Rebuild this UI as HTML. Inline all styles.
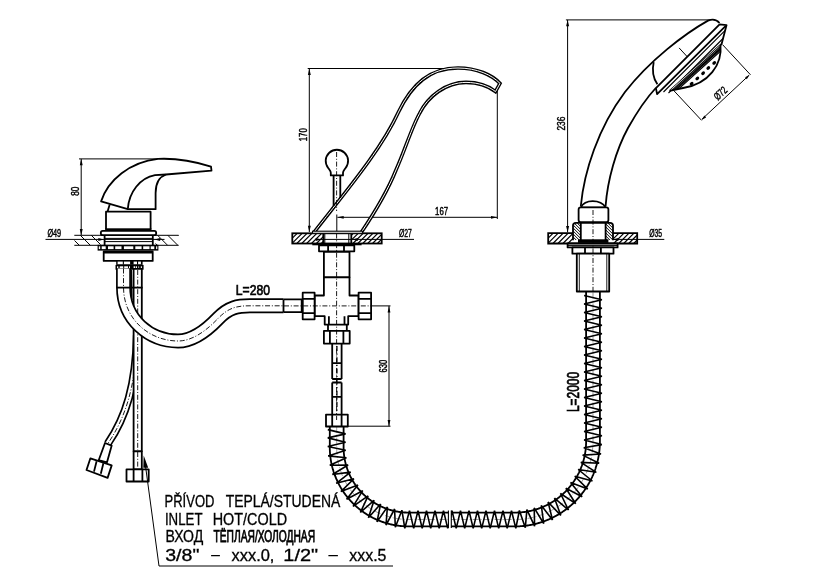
<!DOCTYPE html>
<html><head><meta charset="utf-8"><style>
html,body{margin:0;padding:0;background:#fff;}
svg{display:block;filter:grayscale(1);}
.k{fill:none;stroke:#000;stroke-width:1.8;}
.w{fill:#fff;stroke:#000;stroke-width:1.8;stroke-linejoin:round;}
.w0{fill:none;stroke:#000;stroke-width:1.8;}
.t{fill:none;stroke:#000;stroke-width:1;}
.f{fill:#000;stroke:none;}
.cl{fill:none;stroke:#000;stroke-width:0.9;stroke-dasharray:5 1.8 1 1.8;}
text{font-family:"Liberation Sans",sans-serif;fill:#000;stroke:#000;}
.s{font-size:10.6px;stroke-width:0.45;}
.m1{font-size:14.5px;stroke-width:0.7;}
.tb{font-size:15.6px;stroke-width:0.3;}
</style></head><body>
<svg width="822" height="577" viewBox="0 0 822 577">
<path class="t" d="M74.50,240.50L79.30,245.30M80.30,235.30L90.30,245.30M91.30,235.30L100.50,244.50"/>
<path class="t" d="M155.60,243.50L157.40,245.30M157.60,235.30L167.60,245.30M167.80,235.30L177.80,245.30M178.00,235.30L178.60,235.90"/>
<path class="t" d="M74.3,235.3H178.6M74.3,245.3H178.6"/>
<path class="t" d="M45.5,239.4H164.5"/>
<path d="M103.8,239.4L98.3,240.9L98.3,237.9Z" class="f"/>
<path d="M154.6,239.4L160.1,237.9L160.1,240.9Z" class="f"/>
<text x="47.40" y="237.00" style="font-size:10.6px;stroke-width:0.45" textLength="13.75" lengthAdjust="spacingAndGlyphs">Ø49</text>
<path class="t" d="M79,158.9H158M81.2,158.9V235.2"/>
<path d="M81.2,159.0L82.7,165.3L79.8,165.3Z" class="f"/>
<path d="M81.2,235.2L79.8,228.9L82.7,228.9Z" class="f"/>
<text transform="translate(79.00,195.80) rotate(-90)" style="font-size:10.6px;stroke-width:0.45" textLength="9.25" lengthAdjust="spacingAndGlyphs">80</text>
<path class="w" d="M101.1,201.4C108,180 130,162 158,158.9C180,157.8 198,162.5 211,166.6L211.5,170.6L166,174.5L155,175.2C140,178 129,192 127.8,209.1Z"/>
<path class="w" d="M127.8,209.2H155.6V193C155.6,183 159,177 166,174.5"/>
<path class="k" d="M109.7,204.5L107.6,211.5"/>
<path class="w" d="M106,229.5V211.7H150.6V229.5"/>
<rect x="105.2" y="228.3" width="46.2" height="2.5" class="f"/>
<rect x="100.8" y="230.9" width="55.4" height="4.3" rx="2" class="w"/>
<path class="k" d="M104.6,235.4V245.2M152.8,235.4V245.2"/>
<path class="t" d="M104.6,238.4H152.8M104.6,241.6H152.8"/>
<rect x="97.6" y="244.8" width="60.8" height="5.8" class="f"/>
<rect x="98.8" y="246.3" width="1.4" height="2.8" fill="#fff"/>
<rect x="101.7" y="246.3" width="4.0" height="2.8" fill="#fff"/>
<rect x="108" y="246.3" width="5.6" height="2.8" fill="#fff"/>
<rect x="115.2" y="246.3" width="6.3" height="2.8" fill="#fff"/>
<rect x="123.9" y="246.3" width="9.4" height="2.8" fill="#fff"/>
<rect x="135.3" y="246.3" width="6.3" height="2.8" fill="#fff"/>
<rect x="143.2" y="246.3" width="6.3" height="2.8" fill="#fff"/>
<rect x="150.7" y="246.3" width="3.6" height="2.8" fill="#fff"/>
<rect x="156.1" y="246.3" width="1.2" height="2.8" fill="#fff"/>
<rect x="103.7" y="251.4" width="49" height="9.5" class="w"/>
<path class="k" d="M103.7,252.6H152.7"/>
<rect x="116.2" y="260.6" width="26.4" height="4.3" class="f"/>
<rect x="117.6" y="261.6" width="5.2" height="2.6" fill="#fff"/>
<rect x="123.9" y="261.6" width="6.2" height="2.6" fill="#fff"/>
<rect x="133.6" y="261.6" width="3.4" height="2.6" fill="#fff"/>
<rect x="138.1" y="261.6" width="2.8" height="2.6" fill="#fff"/>
<rect x="115.5" y="264.9" width="28.1" height="4.8" class="f"/>
<rect x="117" y="266.3" width="1.3" height="2.1" fill="#fff"/>
<rect x="119.7" y="266.3" width="3.5" height="2.1" fill="#fff"/>
<rect x="124.2" y="266.3" width="3.8" height="2.1" fill="#fff"/>
<rect x="129" y="266.3" width="1.0" height="2.1" fill="#fff"/>
<rect x="133.6" y="266.3" width="1.7" height="2.1" fill="#fff"/>
<rect x="136" y="266.3" width="1.0" height="2.1" fill="#fff"/>
<rect x="138.4" y="266.3" width="0.7" height="2.1" fill="#fff"/>
<rect x="140.8" y="266.3" width="1.1" height="2.1" fill="#fff"/>
<path class="k" d="M131.1,269.6L131.7,300"/>
<path d="M137,335C136,385 126,417 107.7,443.8" fill="none" stroke="#000" stroke-width="8.2"/>
<path d="M137,335C136,385 126,417 107.7,443.8" fill="none" stroke="#fff" stroke-width="4.9"/>
<path d="M137,335C136,385 126,417 107.7,443.8" class="cl"/>
<rect x="133.6" y="268.8" width="8.2" height="182.5" class="w"/>
<path class="cl" d="M137.7,270V450"/>
<path d="M123.5,268.5L123.5,287C123.5,320 150,341 178,341C193,341 207,330 218,318.5C229,307 238,305.8 250,305.8L283.5,305.8" fill="none" stroke="#000" stroke-width="14.9"/>
<path d="M123.5,268.5L123.5,287C123.5,320 150,341 178,341C193,341 207,330 218,318.5C229,307 238,305.8 250,305.8L283.5,305.8" fill="none" stroke="#fff" stroke-width="11.5"/>
<path d="M123.5,268.5L123.5,287C123.5,320 150,341 178,341C193,341 207,330 218,318.5C229,307 238,305.8 250,305.8L283.5,305.8" class="cl"/>
<path class="k" d="M116.5,287.6H142.6"/>
<rect x="133.6" y="451.3" width="8.2" height="18" class="w"/>
<path class="cl" d="M137.7,452V468"/>
<rect x="126.5" y="469.3" width="22.2" height="12.2" class="w"/>
<path class="k" d="M133.6,469.3V481.5M142.4,469.3V481.5"/>
<path class="w" d="M105,443L111.7,445.6L107,462.3L98.7,460.2Z"/>
<path class="w" d="M90.4,458.3L111.7,465.4L107.6,477.9L86.5,470Z"/>
<path class="k" d="M96.6,461.2L94,471.6M103.4,463.3L100.8,473.7"/>
<path class="f" d="M143.7,455.5L143.3,467.8L148.2,467.8Z"/>
<path class="t" d="M145.5,466L159,566H393"/>
<path class="t" d="M307.7,68.5H458M309.3,68.5V232"/>
<path d="M309.3,68.6L310.8,74.9L307.9,74.9Z" class="f"/>
<path d="M309.3,232.0L307.9,225.7L310.8,225.7Z" class="f"/>
<text transform="translate(307.00,141.20) rotate(-90)" style="font-size:10.6px;stroke-width:0.45" textLength="12.95" lengthAdjust="spacingAndGlyphs">170</text>
<path class="t" d="M497.3,91V219M337.4,217.3H497.3"/>
<path d="M337.4,217.3L343.7,215.9L343.7,218.8Z" class="f"/>
<path d="M497.3,217.3L491.0,218.8L491.0,215.9Z" class="f"/>
<text x="435.05" y="214.60" style="font-size:10.6px;stroke-width:0.45" textLength="13.00" lengthAdjust="spacingAndGlyphs">167</text>
<path d="M314,232.3C347,190 381,150 398.5,112C412,84 430,68 458,68C477,68 492,75 500,83.4L495.5,91.6C489,86.5 479,82.4 466,82.4C446,82.5 428,96 419.5,113.5C411.5,128 405,150 396,170C388,190 375,212 361.2,232.5" fill="none" stroke="#000" stroke-width="3.6" stroke-linejoin="miter"/>
<path d="M314,232.3C347,190 381,150 398.5,112C412,84 430,68 458,68C477,68 492,75 500,83.4L495.5,91.6C489,86.5 479,82.4 466,82.4C446,82.5 428,96 419.5,113.5C411.5,128 405,150 396,170C388,190 375,212 361.2,232.5" fill="none" stroke="#fff" stroke-width="1.0"/>
<path class="w" d="M330.8,175.4V172.8C330.8,171 329.2,169.6 328.2,168A11.2,11.2 0 1 1 345.6,168C344.6,169.6 343,171 343,172.8V175.4Z"/>
<path class="k" d="M333.6,175.4V206M340.3,175.4V198"/>
<path class="t" style="stroke-width:1.2" d="M292.30,238.20L297.20,233.30M292.30,243.10L302.10,233.30M296.80,243.50L307.00,233.30M301.70,243.50L311.90,233.30M306.60,243.50L316.80,233.30M311.50,243.50L321.70,233.30M316.40,243.50L323.30,236.60M321.30,243.50L323.30,241.50"/>
<path class="t" style="stroke-width:1.2" d="M351.30,235.30L353.30,233.30M351.30,240.20L358.20,233.30M352.90,243.50L363.10,233.30M357.80,243.50L368.00,233.30M362.70,243.50L372.90,233.30M367.60,243.50L377.80,233.30M372.50,243.50L381.70,234.30M377.40,243.50L381.70,239.20"/>
<rect x="292.3" y="233.3" width="89.4" height="10.2" class="w0"/>
<path class="k" d="M323.3,233.3V243.5M351.3,233.3V243.5"/>
<path class="t" d="M324.8,233.3V243.5M348.8,233.3V243.5"/>
<rect x="312.5" y="231.2" width="50" height="2.1" fill="#fff" stroke="#000" stroke-width="1.1"/>
<path class="t" d="M336.8,214.5V231.2"/>
<path class="t" d="M317.4,239.4H414"/>
<path d="M321.2,239.4L315.7,240.9L315.7,237.9Z" class="f"/>
<path d="M352.3,239.4L357.8,237.9L357.8,240.9Z" class="f"/>
<text x="398.95" y="237.45" style="font-size:10.6px;stroke-width:0.45" textLength="12.85" lengthAdjust="spacingAndGlyphs">Ø27</text>
<rect x="312.3" y="243.5" width="49.3" height="1.8" class="f"/>
<rect x="319" y="245.3" width="35.3" height="6" class="w"/>
<path class="k" d="M328.1,245.3V251.3M344,245.3V251.3"/>
<rect x="323.9" y="251.8" width="25.6" height="25.5" class="w"/>
<path class="w" d="M323.9,277.3V295.5H314.6V316.2H324.7V324.6H348.2V316.2H358.6V295.5H349.5V277.3Z"/>
<rect x="302.7" y="292.7" width="11.9" height="26.6" class="w"/>
<path class="k" d="M302.7,298.9H314.6M302.7,313.2H314.6"/>
<rect x="358.6" y="292.7" width="12.5" height="26.6" class="w"/>
<path class="k" d="M358.6,298.9H371.1M358.6,313.2H371.1"/>
<path class="k" d="M283.5,299.4V312.2M283.5,299.4H302.7M283.5,312.2H302.7"/>
<path d="M302,299.4V312.2" stroke="#000" stroke-width="2.4"/>
<path class="k" d="M328.9,316.2V324.6M344.5,316.2V324.6"/>
<path class="k" d="M328,324.6V330.9M346.8,324.6V330.9"/>
<rect x="323.9" y="330.9" width="25.8" height="12.7" class="w"/>
<path class="k" d="M329.9,330.9V343.6M343.4,330.9V343.6"/>
<path class="k" d="M332.2,343.6V379M341.6,343.6V379M332.2,382.5V414.6M341.6,382.5V414.6"/>
<path class="k" d="M332.2,363.2H341.6M332.2,379H341.6M332.2,382.5H341.6M332.2,396.8H341.6"/>
<path d="M336.9,346V412" stroke="#000" stroke-width="1.3" stroke-dasharray="5 2.5 1.2 2.5"/>
<rect x="326" y="414.6" width="21.8" height="11.9" class="w"/>
<path class="k" d="M332.2,414.6V426.5M341.6,414.6V426.5"/>
<path class="cl" d="M336.6,152V211"/>
<path class="cl" d="M336.6,233.5V420"/>
<path class="cl" d="M284,305.9H371"/>
<path class="t" d="M371.1,305.9H390.5"/>
<path class="t" d="M389,305.9V426.2M347.8,426.2H390.5"/>
<path d="M389.0,306.1L390.4,312.4L387.6,312.4Z" class="f"/>
<path d="M389.0,426.2L387.6,419.9L390.4,419.9Z" class="f"/>
<text transform="translate(386.65,372.45) rotate(-90)" style="font-size:10.6px;stroke-width:0.45" textLength="12.75" lengthAdjust="spacingAndGlyphs">630</text>
<text x="235.85" y="295.00" style="font-size:15.2px;stroke-width:0.7" textLength="34.20" lengthAdjust="spacingAndGlyphs">L=280</text>
<path class="t" d="M565.9,19.9H710.5M567.6,19.9V232.3"/>
<path d="M567.6,20.0L569.1,26.3L566.1,26.3Z" class="f"/>
<path d="M567.6,232.3L566.1,226.0L569.1,226.0Z" class="f"/>
<text transform="translate(565.40,130.60) rotate(-90)" style="font-size:10.6px;stroke-width:0.45" textLength="14.10" lengthAdjust="spacingAndGlyphs">236</text>
<path class="t" style="stroke-width:1.2" d="M548.20,233.20L548.20,233.20M548.20,238.20L553.20,233.20M548.20,243.20L558.20,233.20M552.90,243.50L563.20,233.20M557.90,243.50L568.20,233.20M562.90,243.50L573.00,233.40M567.90,243.50L573.00,238.40M572.90,243.50L573.00,243.40"/>
<path class="t" style="stroke-width:1.2" d="M613.00,234.20L614.00,233.20M613.00,239.20L619.00,233.20M613.70,243.50L624.00,233.20M618.70,243.50L629.00,233.20M623.70,243.50L634.00,233.20M628.70,243.50L637.20,235.00M633.70,243.50L637.20,240.00"/>
<path class="k" d="M573,233.1H548.2V243.5H637.2V233.1H613"/>
<path class="w0" d="M580.8,206C584,172 598,128 625,92C650,60 685,33.5 708,20.6C713.5,18.5 717,20 719.5,23"/>
<path class="w0" d="M605.6,206C607.5,180 616,150 628,128C637,112 645.5,99 655.8,88"/>
<path class="w" d="M580.6,207.6C583,203.2 588,201.2 592.7,201.2C597.5,201.2 603,203.2 605.8,207.6Z"/>
<rect x="578.6" y="207.4" width="29.8" height="14.8" rx="2.2" class="w"/>
<path class="t" d="M573.20,237.00L576.20,240.00M573.20,234.00L579.20,240.00M573.20,231.00L580.50,238.30M573.20,228.00L580.50,235.30M573.20,225.00L580.50,232.30M574.20,223.00L580.50,229.30M577.20,223.00L580.50,226.30M580.20,223.00L580.50,223.30"/>
<path class="t" d="M605.80,239.00L606.80,240.00M605.80,236.00L609.80,240.00M605.80,233.00L612.80,240.00M605.80,230.00L613.00,237.20M605.80,227.00L613.00,234.20M605.80,224.00L613.00,231.20M607.80,223.00L613.00,228.20M610.80,223.00L613.00,225.20"/>
<path class="w0" d="M573,240.3V225.6C573,223.8 574,222.8 576,222.8H610C612,222.8 613,223.8 613,225.6V240.3"/>
<path class="k" d="M580.8,222.8V240M605.6,222.8V240"/>
<rect x="578" y="239.3" width="30.4" height="3.6" class="f"/>
<path class="t" d="M612.9,239.4H664.3"/>
<path d="M612.9,239.4L618.4,237.9L618.4,240.9Z" class="f"/>
<text x="649.30" y="236.60" style="font-size:10.6px;stroke-width:0.45" textLength="12.85" lengthAdjust="spacingAndGlyphs">Ø35</text>
<rect x="567.6" y="243.5" width="50" height="3.9" class="w"/>
<path d="M567.6,245.4H617.6" stroke="#000" stroke-width="1"/>
<rect x="572.4" y="247.4" width="41.1" height="6.3" class="w"/>
<path class="k" d="M585,247.4V253.7M600.9,247.4V253.7"/>
<rect x="576.8" y="253.7" width="32.4" height="37.8" class="w"/>
<path d="M579.3,254V291.2M606.8,254V291.2" stroke="#000" stroke-width="0.9"/>
<path class="cl" d="M593,210V292"/>
<path class="k" d="M653.7,62.1C652,70 653,78 657.4,84.2"/>
<path class="t" d="M679.1,47.9L687.5,57"/>
<path class="w" d="M719.6,24.4L726.5,25.2L657.1,94.1L655.9,88.1Z"/>
<path class="k" d="M726.5,25.2L721.6,43.9L670,90.6"/>
<path d="M725.2,30.3L663.5,92M723,38.5L668.5,93" stroke="#000" stroke-width="1.1"/>
<clipPath id="dc"><path d="M720.5,44.8C722.5,64 709,84 683,88L669.5,90.8Z"/></clipPath>
<path d="M720.5,44.8C722.5,64 709,84 683,88L669.5,90.8Z" fill="#fff" stroke="none"/>
<path d="M726.0,41.3L666.7,95.0M726.8,42.2L667.5,95.9M727.6,43.1L668.3,96.7M728.4,44.0L669.1,97.6" stroke="#000" stroke-width="1.05" clip-path="url(#dc)"/>
<path class="k" d="M720.5,44.8C722.5,64 709,84 683,88L669.5,90.8"/>
<ellipse cx="714.2" cy="62.9" rx="2.1" ry="1.6" transform="rotate(-40 714.2 62.9)" class="f"/>
<ellipse cx="708.3" cy="68" rx="2.1" ry="1.6" transform="rotate(-40 708.3 68)" class="f"/>
<ellipse cx="703.1" cy="73.2" rx="2.1" ry="1.6" transform="rotate(-40 703.1 73.2)" class="f"/>
<ellipse cx="697.3" cy="78.4" rx="2.1" ry="1.6" transform="rotate(-40 697.3 78.4)" class="f"/>
<ellipse cx="691.6" cy="83.7" rx="2.1" ry="1.6" transform="rotate(-40 691.6 83.7)" class="f"/>
<path class="t" d="M722.6,44.7L750.5,74.8M672,88.7L701.6,120.4M748.8,75.5L702,119.2"/>
<path d="M749.6,74.8L746.8,79.2L745.1,77.3Z" class="f"/>
<path d="M701.6,119.9L704.4,115.5L706.1,117.4Z" class="f"/>
<text transform="translate(717.7,100.8) rotate(-43)" class="s" textLength="14" lengthAdjust="spacingAndGlyphs">Ø72</text>
<polyline points="329.8,426.6 329.8,426.9 329.8,427.1 329.8,427.4 329.8,427.6 329.8,427.9 329.8,428.1 329.8,428.4 329.8,428.6 329.8,428.9 329.8,429.1 329.8,429.4 329.8,429.6 329.8,429.9 329.8,430.1 329.8,430.4 329.8,430.6 329.8,430.9 329.8,431.1 329.8,431.4 329.8,431.6 329.8,431.9 329.8,432.1 329.8,432.4 329.8,432.6 329.8,432.9 329.8,433.1 329.8,433.4 329.8,433.7 329.8,433.9 329.8,434.2 329.8,434.4 329.8,434.7 329.8,434.9 329.8,435.2 329.8,435.4 329.8,435.7 329.8,435.9 329.8,436.2 329.8,436.4 329.8,436.7 329.8,436.9 329.8,437.2 329.8,437.4 329.8,437.7 329.8,437.9 329.8,438.2 329.8,438.4 329.8,438.7 329.8,438.9 329.8,439.2 329.8,439.4 329.8,439.7 329.8,439.9 329.8,440.2 329.8,440.4 329.8,440.7 329.8,441.0 329.8,441.2 329.8,441.5 329.8,441.7 329.8,442.0 329.8,442.2 329.8,442.5 329.8,442.7 329.8,443.0 329.8,443.2 329.8,443.5 329.8,443.7 329.8,444.0 329.8,444.2 329.8,444.5 329.8,444.7 329.8,445.0 329.8,445.2 329.8,445.5 329.8,445.7 329.8,446.0 329.8,446.2 329.8,446.5 329.8,446.7 329.8,447.0 329.8,447.2 329.8,447.5 329.8,447.8 329.8,448.0 329.8,448.3 329.8,448.6 329.8,448.9 329.8,449.1 329.8,449.4 329.8,449.7 329.8,450.0 329.8,450.2 329.9,450.5 329.9,450.8 329.9,451.1 329.9,451.3 329.9,451.6 329.9,451.9 329.9,452.2 330.0,452.4 330.0,452.7 330.0,453.0 330.0,453.3 330.0,453.5 330.1,453.8 330.1,454.1 330.1,454.3 330.1,454.6 330.1,454.9 330.2,455.2 330.2,455.4 330.2,455.7 330.3,456.0 330.3,456.3 330.3,456.5 330.4,456.8 330.4,457.1 330.4,457.3 330.5,457.6 330.5,457.9 330.5,458.2 330.6,458.4 330.6,458.7 330.6,459.0 330.7,459.2 330.7,459.5 330.8,459.8 330.8,460.1 330.9,460.3 330.9,460.6 330.9,460.9 331.0,461.1 331.0,461.4 331.1,461.7 331.1,462.0 331.2,462.2 331.2,462.5 331.3,462.8 331.3,463.0 331.4,463.3 331.5,463.6 331.5,463.8 331.6,464.1 331.6,464.4 331.7,464.6 331.7,464.9 331.8,465.2 331.9,465.4 331.9,465.7 332.0,466.0 332.1,466.2 332.1,466.5 332.2,466.8 332.3,467.0 332.3,467.3 332.4,467.6 332.5,467.8 332.5,468.1 332.6,468.4 332.7,468.6 332.8,468.9 332.8,469.2 332.9,469.4 333.0,469.7 333.1,469.9 333.1,470.2 333.2,470.5 333.3,470.7 333.4,471.0 333.5,471.3 333.5,471.5 333.6,471.8 333.7,472.0 333.8,472.3 333.9,472.6 334.0,472.8 334.1,473.1 334.2,473.3 334.2,473.6 334.3,473.9 334.4,474.1 334.5,474.4 334.6,474.6 334.7,474.9 334.8,475.1 334.9,475.4 335.0,475.7 335.1,475.9 335.2,476.2 335.3,476.4 335.4,476.7 335.5,476.9 335.6,477.2 335.7,477.4 335.8,477.7 335.9,477.9 336.0,478.2 336.1,478.5 336.2,478.7 336.3,479.0 336.5,479.2 336.6,479.5 336.7,479.7 336.8,480.0 336.9,480.2 337.0,480.5 337.1,480.7 337.2,481.0 337.4,481.2 337.5,481.5 337.6,481.7 337.7,481.9 337.8,482.2 338.0,482.4 338.1,482.7 338.2,482.9 338.3,483.2 338.4,483.4 338.6,483.7 338.7,483.9 338.8,484.1 339.0,484.4 339.1,484.6 339.2,484.9 339.3,485.1 339.5,485.4 339.6,485.6 339.7,485.8 339.9,486.1 340.0,486.3 340.1,486.6 340.3,486.8 340.4,487.0 340.6,487.3 340.7,487.5 340.8,487.7 341.0,488.0 341.1,488.2 341.3,488.4 341.4,488.7 341.5,488.9 341.7,489.1 341.8,489.4 342.0,489.6 342.1,489.8 342.3,490.1 342.4,490.3 342.6,490.5 342.7,490.8 342.9,491.0 343.0,491.2 343.2,491.4 343.3,491.7 343.5,491.9 343.6,492.1 343.8,492.4 343.9,492.6 344.1,492.8 344.3,493.0 344.4,493.3 344.6,493.5 344.7,493.7 344.9,493.9 345.1,494.1 345.2,494.4 345.4,494.6 345.6,494.8 345.7,495.0 345.9,495.2 346.0,495.5 346.2,495.7 346.4,495.9 346.6,496.1 346.7,496.3 346.9,496.5 347.1,496.8 347.2,497.0 347.4,497.2 347.6,497.4 347.8,497.6 347.9,497.8 348.1,498.0 348.3,498.2 348.5,498.4 348.6,498.7 348.8,498.9 349.0,499.1 349.2,499.3 349.3,499.5 349.5,499.7 349.7,499.9 349.9,500.1 350.1,500.3 350.3,500.5 350.4,500.7 350.6,500.9 350.8,501.1 351.0,501.3 351.2,501.5 351.4,501.7 351.6,501.9 351.8,502.1 351.9,502.3 352.1,502.5 352.3,502.7 352.5,502.9 352.7,503.1 352.9,503.3 353.1,503.5 353.3,503.7 353.5,503.9 353.7,504.1 353.9,504.3 354.1,504.4 354.3,504.6 354.5,504.8 354.7,505.0 354.9,505.2 355.1,505.4 355.3,505.6 355.5,505.8 355.7,505.9 355.9,506.1 356.1,506.3 356.3,506.5 356.5,506.7 356.7,506.9 356.9,507.0 357.1,507.2 357.3,507.4 357.5,507.6 357.8,507.7 358.0,507.9 358.2,508.1 358.4,508.3 358.6,508.4 358.8,508.6 359.0,508.8 359.2,509.0 359.4,509.1 359.7,509.3 359.9,509.5 360.1,509.6 360.3,509.8 360.5,510.0 360.7,510.2 361.0,510.3 361.2,510.5 361.4,510.6 361.6,510.8 361.8,511.0 362.1,511.1 362.3,511.3 362.5,511.5 362.7,511.6 362.9,511.8 363.2,511.9 363.4,512.1 363.6,512.3 363.8,512.4 364.1,512.6 364.3,512.7 364.5,512.9 364.8,513.0 365.0,513.2 365.2,513.3 365.4,513.5 365.7,513.6 365.9,513.8 366.1,513.9 366.4,514.1 366.6,514.2 366.8,514.4 367.1,514.5 367.3,514.7 367.5,514.8 367.8,514.9 368.0,515.1 368.2,515.2 368.5,515.4 368.7,515.5 368.9,515.6 369.2,515.8 369.4,515.9 369.6,516.1 369.9,516.2 370.1,516.3 370.4,516.5 370.6,516.6 370.8,516.7 371.1,516.9 371.3,517.0 371.6,517.1 371.8,517.2 372.1,517.4 372.3,517.5 372.5,517.6 372.8,517.8 373.0,517.9 373.3,518.0 373.5,518.1 373.8,518.2 374.0,518.4 374.3,518.5 374.5,518.6 374.7,518.7 375.0,518.8 375.2,519.0 375.5,519.1 375.7,519.2 376.0,519.3 376.2,519.4 376.5,519.5 376.7,519.6 377.0,519.7 377.2,519.9 377.5,520.0 377.7,520.1 378.0,520.2 378.3,520.3 378.5,520.4 378.8,520.5 379.0,520.6 379.3,520.7 379.5,520.8 379.8,520.9 380.0,521.0 380.3,521.1 380.5,521.2 380.8,521.3 381.1,521.4 381.3,521.5 381.6,521.6 381.8,521.7 382.1,521.8 382.3,521.9 382.6,522.0 382.9,522.0 383.1,522.1 383.4,522.2 383.6,522.3 383.9,522.4 384.2,522.5 384.4,522.6 384.7,522.7 384.9,522.7 385.2,522.8 385.5,522.9 385.7,523.0 386.0,523.1 386.3,523.1 386.5,523.2 386.8,523.3 387.0,523.4 387.3,523.4 387.6,523.5 387.8,523.6 388.1,523.7 388.4,523.7 388.6,523.8 388.9,523.9 389.2,523.9 389.4,524.0 389.7,524.1 390.0,524.1 390.2,524.2 390.5,524.3 390.8,524.3 391.0,524.4 391.3,524.5 391.6,524.5 391.8,524.6 392.1,524.6 392.4,524.7 392.6,524.7 392.9,524.8 393.2,524.9 393.4,524.9 393.7,525.0 394.0,525.0 394.2,525.1 394.5,525.1 394.8,525.2 395.1,525.2 395.3,525.3 395.6,525.3 395.9,525.3 396.1,525.4 396.4,525.4 396.7,525.5 397.0,525.5 397.2,525.6 397.5,525.6 397.8,525.6 398.0,525.7 398.3,525.7 398.6,525.7 398.9,525.8 399.1,525.8 399.4,525.8 399.7,525.9 399.9,525.9 400.2,525.9 400.5,526.0 400.8,526.0 401.0,526.0 401.3,526.1 401.6,526.1 401.9,526.1 402.1,526.1 402.4,526.1 402.7,526.2 402.9,526.2 403.2,526.2 403.5,526.2 403.8,526.2 404.0,526.3 404.3,526.3 404.6,526.3 404.9,526.3 405.1,526.3 405.4,526.3 405.7,526.3 406.0,526.4 406.2,526.4 406.5,526.4 406.8,526.4 407.1,526.4 407.3,526.4 407.6,526.4 407.9,526.4 408.2,526.4 408.4,526.4 408.7,526.4 409.0,526.4 409.2,526.4 409.5,526.4 409.7,526.4 410.0,526.4 410.2,526.4 410.5,526.4 410.7,526.4 411.0,526.4 411.2,526.4 411.5,526.4 411.7,526.4 412.0,526.4 412.2,526.4 412.5,526.4 412.7,526.4 413.0,526.4 413.2,526.4 413.5,526.4 413.7,526.4 414.0,526.4 414.2,526.4 414.5,526.4 414.7,526.4 415.0,526.4 415.2,526.4 415.5,526.4 415.7,526.4 416.0,526.4 416.2,526.4 416.5,526.4 416.7,526.4 417.0,526.4 417.2,526.4 417.5,526.4 417.7,526.4 418.0,526.4 418.2,526.4 418.5,526.4 418.7,526.4 419.0,526.4 419.2,526.4 419.5,526.4 419.7,526.4 420.0,526.4 420.2,526.4 420.5,526.4 420.7,526.4 421.0,526.4 421.2,526.4 421.5,526.4 421.7,526.4 422.0,526.4 422.2,526.4 422.5,526.4 422.7,526.4 423.0,526.4 423.2,526.4 423.5,526.4 423.7,526.4 424.0,526.4 424.2,526.4 424.5,526.4 424.7,526.4 425.0,526.4 425.2,526.4 425.5,526.4 425.7,526.4 426.0,526.4 426.2,526.4 426.5,526.4 426.7,526.4 427.0,526.4 427.2,526.4 427.5,526.4 427.7,526.4 428.0,526.4 428.2,526.4 428.5,526.4 428.7,526.4 429.0,526.4 429.2,526.4 429.5,526.4 429.7,526.4 430.0,526.4 430.2,526.4 430.5,526.4 430.7,526.4 431.0,526.4 431.2,526.4 431.5,526.4 431.7,526.4 432.0,526.4 432.2,526.4 432.5,526.4 432.7,526.4 433.0,526.4 433.2,526.4 433.5,526.4 433.7,526.4 434.0,526.4 434.2,526.4 434.5,526.4 434.7,526.4 435.0,526.4 435.2,526.4 435.5,526.4 435.7,526.4 436.0,526.4 436.2,526.4 436.5,526.4 436.7,526.4 437.0,526.4 437.2,526.4 437.5,526.4 437.7,526.4 438.0,526.4 438.2,526.4 438.5,526.4 438.7,526.4 439.0,526.4 439.2,526.4 439.5,526.4 439.7,526.4 440.0,526.4 440.2,526.4 440.5,526.4 440.7,526.4 441.0,526.4 441.2,526.4 441.5,526.4 441.7,526.4 442.0,526.4 442.2,526.4 442.5,526.4 442.7,526.4 443.0,526.4 443.2,526.4 443.5,526.4 443.7,526.4 444.0,526.4 444.2,526.4 444.5,526.4 444.7,526.4 445.0,526.4 445.2,526.4 445.5,526.4 445.7,526.4 446.0,526.4 446.2,526.4 446.5,526.4 446.7,526.4 447.0,526.4 447.2,526.4 447.5,526.4 447.7,526.4 448.0,526.4 448.2,526.4 448.5,526.4 448.7,526.4 449.0,526.4 449.2,526.4 449.5,526.4 449.7,526.4 450.0,526.4 450.2,526.4 450.5,526.4 450.7,526.4 451.0,526.4 451.2,526.4 451.5,526.4 451.7,526.4 452.0,526.4 452.2,526.4 452.5,526.4 452.7,526.4 453.0,526.4 453.2,526.4 453.5,526.4 453.7,526.4 454.0,526.4 454.2,526.4 454.5,526.4 454.7,526.4 455.0,526.4 455.2,526.4 455.5,526.4 455.7,526.4 456.0,526.4 456.2,526.4 456.5,526.4 456.7,526.4 457.0,526.4 457.2,526.4 457.5,526.4 457.7,526.4 458.0,526.4 458.2,526.4 458.5,526.4 458.7,526.4 459.0,526.4 459.2,526.4 459.5,526.4 459.7,526.4 460.0,526.4 460.2,526.4 460.5,526.4 460.7,526.4 461.0,526.4 461.2,526.4 461.5,526.4 461.7,526.4 462.0,526.4 462.2,526.4 462.5,526.4 462.7,526.4 463.0,526.4 463.2,526.4 463.5,526.4 463.7,526.4 464.0,526.4 464.2,526.4 464.5,526.4 464.7,526.4 465.0,526.4 465.2,526.4 465.5,526.4 465.7,526.4 466.0,526.4 466.2,526.4 466.5,526.4 466.7,526.4 467.0,526.4 467.2,526.4 467.5,526.4 467.7,526.4 468.0,526.4 468.2,526.4 468.5,526.4 468.7,526.4 469.0,526.4 469.2,526.4 469.5,526.4 469.7,526.4 470.0,526.4 470.2,526.4 470.5,526.4 470.7,526.4 471.0,526.4 471.2,526.4 471.5,526.4 471.7,526.4 472.0,526.4 472.2,526.4 472.5,526.4 472.7,526.4 473.0,526.4 473.2,526.4 473.5,526.4 473.7,526.4 474.0,526.4 474.2,526.4 474.5,526.4 474.7,526.4 475.0,526.4 475.2,526.4 475.5,526.4 475.7,526.4 476.0,526.4 476.2,526.4 476.5,526.4 476.7,526.4 477.0,526.4 477.2,526.4 477.5,526.4 477.7,526.4 478.0,526.4 478.2,526.4 478.5,526.4 478.7,526.4 479.0,526.4 479.2,526.4 479.5,526.4 479.7,526.4 480.0,526.4 480.2,526.4 480.5,526.4 480.7,526.4 481.0,526.4 481.2,526.4 481.5,526.4 481.7,526.4 482.0,526.4 482.2,526.4 482.5,526.4 482.7,526.4 483.0,526.4 483.2,526.4 483.5,526.4 483.7,526.4 484.0,526.4 484.2,526.4 484.5,526.4 484.7,526.4 485.0,526.4 485.2,526.4 485.5,526.4 485.7,526.4 486.0,526.4 486.2,526.4 486.5,526.4 486.7,526.4 487.0,526.4 487.2,526.4 487.5,526.4 487.7,526.4 488.0,526.4 488.2,526.4 488.5,526.4 488.7,526.4 489.0,526.4 489.2,526.4 489.5,526.4 489.7,526.4 490.0,526.4 490.2,526.4 490.5,526.4 490.7,526.4 491.0,526.4 491.2,526.4 491.5,526.4 491.7,526.4 492.0,526.4 492.2,526.4 492.5,526.4 492.7,526.4 493.0,526.4 493.2,526.4 493.5,526.4 493.7,526.4 494.0,526.4 494.2,526.4 494.5,526.4 494.7,526.4 495.0,526.4 495.2,526.4 495.5,526.4 495.7,526.4 496.0,526.4 496.2,526.4 496.5,526.4 496.7,526.4 497.0,526.4 497.2,526.4 497.5,526.4 497.7,526.4 498.0,526.4 498.2,526.4 498.5,526.4 498.7,526.4 499.0,526.4 499.2,526.4 499.5,526.4 499.7,526.4 500.0,526.4 500.2,526.4 500.5,526.4 500.7,526.4 501.0,526.4 501.2,526.4 501.5,526.4 501.7,526.4 502.0,526.4 502.2,526.4 502.5,526.4 502.7,526.4 503.0,526.4 503.2,526.4 503.5,526.4 503.7,526.4 504.0,526.4 504.2,526.4 504.5,526.4 504.7,526.4 505.0,526.4 505.2,526.4 505.5,526.4 505.7,526.4 506.0,526.4 506.2,526.4 506.5,526.4 506.7,526.4 507.0,526.4 507.2,526.4 507.5,526.4 507.7,526.4 508.0,526.4 508.2,526.4 508.5,526.4 508.7,526.4 509.0,526.4 509.2,526.4 509.5,526.4 509.7,526.4 510.0,526.4 510.2,526.4 510.5,526.4 510.7,526.4 511.0,526.4 511.2,526.4 511.5,526.4 511.7,526.4 512.0,526.4 512.2,526.4 512.5,526.4 512.7,526.4 513.0,526.4 513.2,526.4 513.5,526.4 513.7,526.4 514.0,526.4 514.2,526.4 514.5,526.4 514.7,526.4 515.0,526.4 515.3,526.4 515.5,526.4 515.8,526.4 516.1,526.4 516.4,526.4 516.6,526.4 516.9,526.4 517.2,526.4 517.4,526.4 517.7,526.4 518.0,526.3 518.3,526.3 518.5,526.3 518.8,526.3 519.1,526.3 519.4,526.3 519.6,526.3 519.9,526.3 520.2,526.2 520.4,526.2 520.7,526.2 521.0,526.2 521.3,526.2 521.5,526.1 521.8,526.1 522.1,526.1 522.3,526.1 522.6,526.1 522.9,526.0 523.2,526.0 523.4,526.0 523.7,526.0 524.0,525.9 524.2,525.9 524.5,525.9 524.8,525.8 525.0,525.8 525.3,525.8 525.6,525.7 525.9,525.7 526.1,525.7 526.4,525.6 526.7,525.6 526.9,525.6 527.2,525.5 527.5,525.5 527.7,525.4 528.0,525.4 528.3,525.4 528.6,525.3 528.8,525.3 529.1,525.2 529.4,525.2 529.6,525.1 529.9,525.1 530.2,525.0 530.4,525.0 530.7,524.9 531.0,524.9 531.2,524.8 531.5,524.8 531.8,524.7 532.0,524.7 532.3,524.6 532.6,524.6 532.8,524.5 533.1,524.4 533.4,524.4 533.6,524.3 533.9,524.3 534.2,524.2 534.4,524.1 534.7,524.1 535.0,524.0 535.2,524.0 535.5,523.9 535.7,523.8 536.0,523.8 536.3,523.7 536.5,523.6 536.8,523.6 537.1,523.5 537.3,523.4 537.6,523.3 537.8,523.3 538.1,523.2 538.4,523.1 538.6,523.0 538.9,523.0 539.2,522.9 539.4,522.8 539.7,522.7 539.9,522.7 540.2,522.6 540.5,522.5 540.7,522.4 541.0,522.3 541.2,522.2 541.5,522.2 541.8,522.1 542.0,522.0 542.3,521.9 542.5,521.8 542.8,521.7 543.0,521.6 543.3,521.5 543.6,521.5 543.8,521.4 544.1,521.3 544.3,521.2 544.6,521.1 544.8,521.0 545.1,520.9 545.3,520.8 545.6,520.7 545.8,520.6 546.1,520.5 546.4,520.4 546.6,520.3 546.9,520.2 547.1,520.1 547.4,520.0 547.6,519.9 547.9,519.8 548.1,519.7 548.4,519.6 548.6,519.5 548.9,519.4 549.1,519.2 549.4,519.1 549.6,519.0 549.9,518.9 550.1,518.8 550.4,518.7 550.6,518.6 550.9,518.5 551.1,518.3 551.3,518.2 551.6,518.1 551.8,518.0 552.1,517.9 552.3,517.8 552.6,517.6 552.8,517.5 553.1,517.4 553.3,517.3 553.5,517.1 553.8,517.0 554.0,516.9 554.3,516.8 554.5,516.6 554.8,516.5 555.0,516.4 555.2,516.3 555.5,516.1 555.7,516.0 555.9,515.9 556.2,515.7 556.4,515.6 556.7,515.5 556.9,515.3 557.1,515.2 557.4,515.1 557.6,514.9 557.8,514.8 558.1,514.7 558.3,514.5 558.5,514.4 558.8,514.2 559.0,514.1 559.2,514.0 559.5,513.8 559.7,513.7 559.9,513.5 560.2,513.4 560.4,513.2 560.6,513.1 560.9,512.9 561.1,512.8 561.3,512.7 561.5,512.5 561.8,512.4 562.0,512.2 562.2,512.1 562.5,511.9 562.7,511.7 562.9,511.6 563.1,511.4 563.3,511.3 563.6,511.1 563.8,511.0 564.0,510.8 564.2,510.7 564.5,510.5 564.7,510.3 564.9,510.2 565.1,510.0 565.3,509.9 565.6,509.7 565.8,509.5 566.0,509.4 566.2,509.2 566.4,509.0 566.6,508.9 566.9,508.7 567.1,508.6 567.3,508.4 567.5,508.2 567.7,508.0 567.9,507.9 568.1,507.7 568.4,507.5 568.6,507.4 568.8,507.2 569.0,507.0 569.2,506.8 569.4,506.7 569.6,506.5 569.8,506.3 570.0,506.1 570.2,506.0 570.4,505.8 570.7,505.6 570.9,505.4 571.1,505.3 571.3,505.1 571.5,504.9 571.7,504.7 571.9,504.5 572.1,504.3 572.3,504.2 572.5,504.0 572.7,503.8 572.9,503.6 573.1,503.4 573.3,503.2 573.5,503.1 573.7,502.9 573.9,502.7 574.1,502.5 574.3,502.3 574.5,502.1 574.6,501.9 574.8,501.7 575.0,501.5 575.2,501.3 575.4,501.1 575.6,501.0 575.8,500.8 576.0,500.6 576.2,500.4 576.4,500.2 576.6,500.0 576.7,499.8 576.9,499.6 577.1,499.4 577.3,499.2 577.5,499.0 577.7,498.8 577.8,498.6 578.0,498.4 578.2,498.2 578.4,498.0 578.6,497.8 578.8,497.6 578.9,497.4 579.1,497.2 579.3,496.9 579.5,496.7 579.6,496.5 579.8,496.3 580.0,496.1 580.2,495.9 580.3,495.7 580.5,495.5 580.7,495.3 580.9,495.1 581.0,494.9 581.2,494.6 581.4,494.4 581.5,494.2 581.7,494.0 581.9,493.8 582.1,493.6 582.2,493.4 582.4,493.1 582.5,492.9 582.7,492.7 582.9,492.5 583.0,492.3 583.2,492.1 583.4,491.8 583.5,491.6 583.7,491.4 583.8,491.2 584.0,491.0 584.2,490.7 584.3,490.5 584.5,490.3 584.6,490.1 584.8,489.8 584.9,489.6 585.1,489.4 585.2,489.2 585.4,489.0 585.6,488.7 585.7,488.5 585.9,488.3 586.0,488.0 586.2,487.8 586.3,487.6 586.4,487.4 586.6,487.1 586.7,486.9 586.9,486.7 587.0,486.4 587.2,486.2 587.3,486.0 587.5,485.7 587.6,485.5 587.7,485.3 587.9,485.0 588.0,484.8 588.2,484.6 588.3,484.3 588.4,484.1 588.6,483.9 588.7,483.6 588.8,483.4 589.0,483.2 589.1,482.9 589.2,482.7 589.4,482.4 589.5,482.2 589.6,482.0 589.8,481.7 589.9,481.5 590.0,481.3 590.1,481.0 590.3,480.8 590.4,480.5 590.5,480.3 590.6,480.0 590.8,479.8 590.9,479.6 591.0,479.3 591.1,479.1 591.3,478.8 591.4,478.6 591.5,478.3 591.6,478.1 591.7,477.8 591.8,477.6 592.0,477.4 592.1,477.1 592.2,476.9 592.3,476.6 592.4,476.4 592.5,476.1 592.6,475.9 592.7,475.6 592.9,475.4 593.0,475.1 593.1,474.9 593.2,474.6 593.3,474.4 593.4,474.1 593.5,473.9 593.6,473.6 593.7,473.4 593.8,473.1 593.9,472.9 594.0,472.6 594.1,472.3 594.2,472.1 594.3,471.8 594.4,471.6 594.5,471.3 594.6,471.1 594.7,470.8 594.8,470.6 594.9,470.3 595.0,470.1 595.0,469.8 595.1,469.5 595.2,469.3 595.3,469.0 595.4,468.8 595.5,468.5 595.6,468.3 595.7,468.0 595.7,467.7 595.8,467.5 595.9,467.2 596.0,467.0 596.1,466.7 596.2,466.4 596.2,466.2 596.3,465.9 596.4,465.7 596.5,465.4 596.5,465.1 596.6,464.9 596.7,464.6 596.8,464.3 596.8,464.1 596.9,463.8 597.0,463.6 597.1,463.3 597.1,463.0 597.2,462.8 597.3,462.5 597.3,462.2 597.4,462.0 597.5,461.7 597.5,461.5 597.6,461.2 597.6,460.9 597.7,460.7 597.8,460.4 597.8,460.1 597.9,459.9 597.9,459.6 598.0,459.3 598.1,459.1 598.1,458.8 598.2,458.5 598.2,458.3 598.3,458.0 598.3,457.7 598.4,457.5 598.4,457.2 598.5,456.9 598.5,456.7 598.6,456.4 598.6,456.1 598.7,455.9 598.7,455.6 598.8,455.3 598.8,455.1 598.9,454.8 598.9,454.5 598.9,454.2 599.0,454.0 599.0,453.7 599.1,453.4 599.1,453.2 599.1,452.9 599.2,452.6 599.2,452.4 599.2,452.1 599.3,451.8 599.3,451.5 599.3,451.3 599.4,451.0 599.4,450.7 599.4,450.5 599.5,450.2 599.5,449.9 599.5,449.7 599.5,449.4 599.6,449.1 599.6,448.8 599.6,448.6 599.6,448.3 599.6,448.0 599.7,447.8 599.7,447.5 599.7,447.2 599.7,446.9 599.7,446.7 599.8,446.4 599.8,446.1 599.8,445.9 599.8,445.6 599.8,445.3 599.8,445.0 599.8,444.8 599.8,444.5 599.9,444.2 599.9,443.9 599.9,443.7 599.9,443.4 599.9,443.1 599.9,442.9 599.9,442.6 599.9,442.3 599.9,442.0 599.9,441.8 599.9,441.5 599.9,441.2 599.9,441.0 599.9,440.8 599.9,440.5 599.9,440.2 599.9,440.0 599.9,439.8 599.9,439.5 599.9,439.2 599.9,439.0 599.9,438.8 599.9,438.5 599.9,438.2 599.9,438.0 599.9,437.8 599.9,437.5 599.9,437.2 599.9,437.0 599.9,436.8 599.9,436.5 599.9,436.2 599.9,436.0 599.9,435.8 599.9,435.5 599.9,435.2 599.9,435.0 599.9,434.8 599.9,434.5 599.9,434.2 599.9,434.0 599.9,433.8 599.9,433.5 599.9,433.2 599.9,433.0 599.9,432.8 599.9,432.5 599.9,432.2 599.9,432.0 599.9,431.8 599.9,431.5 599.9,431.2 599.9,431.0 599.9,430.8 599.9,430.5 599.9,430.2 599.9,430.0 599.9,429.8 599.9,429.5 599.9,429.2 599.9,429.0 599.9,428.8 599.9,428.5 599.9,428.2 599.9,428.0 599.9,427.8 599.9,427.5 599.9,427.2 599.9,427.0 599.9,426.8 599.9,426.5 599.9,426.2 599.9,426.0 599.9,425.8 599.9,425.5 599.9,425.2 599.9,425.0 599.9,424.8 599.9,424.5 599.9,424.2 599.9,424.0 599.9,423.8 599.9,423.5 599.9,423.2 599.9,423.0 599.9,422.8 599.9,422.5 599.9,422.2 599.9,422.0 599.9,421.8 599.9,421.5 599.9,421.2 599.9,421.0 599.9,420.8 599.9,420.5 599.9,420.2 599.9,420.0 599.9,419.8 599.9,419.5 599.9,419.2 599.9,419.0 599.9,418.8 599.9,418.5 599.9,418.2 599.9,418.0 599.9,417.8 599.9,417.5 599.9,417.2 599.9,417.0 599.9,416.8 599.9,416.5 599.9,416.2 599.9,416.0 599.9,415.8 599.9,415.5 599.9,415.2 599.9,415.0 599.9,414.8 599.9,414.5 599.9,414.2 599.9,414.0 599.9,413.8 599.9,413.5 599.9,413.2 599.9,413.0 599.9,412.8 599.9,412.5 599.9,412.2 599.9,412.0 599.9,411.8 599.9,411.5 599.9,411.2 599.9,411.0 599.9,410.8 599.9,410.5 599.9,410.2 599.9,410.0 599.9,409.8 599.9,409.5 599.9,409.2 599.9,409.0 599.9,408.8 599.9,408.5 599.9,408.2 599.9,408.0 599.9,407.8 599.9,407.5 599.9,407.2 599.9,407.0 599.9,406.8 599.9,406.5 599.9,406.2 599.9,406.0 599.9,405.8 599.9,405.5 599.9,405.2 599.9,405.0 599.9,404.8 599.9,404.5 599.9,404.2 599.9,404.0 599.9,403.8 599.9,403.5 599.9,403.2 599.9,403.0 599.9,402.8 599.9,402.5 599.9,402.2 599.9,402.0 599.9,401.8 599.9,401.5 599.9,401.2 599.9,401.0 599.9,400.8 599.9,400.5 599.9,400.2 599.9,400.0 599.9,399.8 599.9,399.5 599.9,399.2 599.9,399.0 599.9,398.8 599.9,398.5 599.9,398.2 599.9,398.0 599.9,397.8 599.9,397.5 599.9,397.2 599.9,397.0 599.9,396.8 599.9,396.5 599.9,396.2 599.9,396.0 599.9,395.8 599.9,395.5 599.9,395.2 599.9,395.0 599.9,394.8 599.9,394.5 599.9,394.2 599.9,394.0 599.9,393.8 599.9,393.5 599.9,393.2 599.9,393.0 599.9,392.8 599.9,392.5 599.9,392.2 599.9,392.0 599.9,391.8 599.9,391.5 599.9,391.2 599.9,391.0 599.9,390.8 599.9,390.5 599.9,390.2 599.9,390.0 599.9,389.8 599.9,389.5 599.9,389.2 599.9,389.0 599.9,388.8 599.9,388.5 599.9,388.2 599.9,388.0 599.9,387.8 599.9,387.5 599.9,387.2 599.9,387.0 599.9,386.8 599.9,386.5 599.9,386.2 599.9,386.0 599.9,385.8 599.9,385.5 599.9,385.2 599.9,385.0 599.9,384.8 599.9,384.5 599.9,384.2 599.9,384.0 599.9,383.8 599.9,383.5 599.9,383.2 599.9,383.0 599.9,382.8 599.9,382.5 599.9,382.2 599.9,382.0 599.9,381.8 599.9,381.5 599.9,381.2 599.9,381.0 599.9,380.8 599.9,380.5 599.9,380.2 599.9,380.0 599.9,379.8 599.9,379.5 599.9,379.2 599.9,379.0 599.9,378.8 599.9,378.5 599.9,378.2 599.9,378.0 599.9,377.8 599.9,377.5 599.9,377.2 599.9,377.0 599.9,376.8 599.9,376.5 599.9,376.2 599.9,376.0 599.9,375.8 599.9,375.5 599.9,375.2 599.9,375.0 599.9,374.8 599.9,374.5 599.9,374.2 599.9,374.0 599.9,373.8 599.9,373.5 599.9,373.2 599.9,373.0 599.9,372.8 599.9,372.5 599.9,372.2 599.9,372.0 599.9,371.8 599.9,371.5 599.9,371.2 599.9,371.0 599.9,370.8 599.9,370.5 599.9,370.2 599.9,370.0 599.9,369.8 599.9,369.5 599.9,369.2 599.9,369.0 599.9,368.8 599.9,368.5 599.9,368.2 599.9,368.0 599.9,367.8 599.9,367.5 599.9,367.2 599.9,367.0 599.9,366.8 599.9,366.5 599.9,366.2 599.9,366.0 599.9,365.8 599.9,365.5 599.9,365.2 599.9,365.0 599.9,364.8 599.9,364.5 599.9,364.2 599.9,364.0 599.9,363.8 599.9,363.5 599.9,363.2 599.9,363.0 599.9,362.8 599.9,362.5 599.9,362.2 599.9,362.0 599.9,361.8 599.9,361.5 599.9,361.2 599.9,361.0 599.9,360.8 599.9,360.5 599.9,360.2 599.9,360.0 599.9,359.8 599.9,359.5 599.9,359.2 599.9,359.0 599.9,358.8 599.9,358.5 599.9,358.2 599.9,358.0 599.9,357.8 599.9,357.5 599.9,357.2 599.9,357.0 599.9,356.8 599.9,356.5 599.9,356.2 599.9,356.0 599.9,355.8 599.9,355.5 599.9,355.2 599.9,355.0 599.9,354.8 599.9,354.5 599.9,354.2 599.9,354.0 599.9,353.8 599.9,353.5 599.9,353.2 599.9,353.0 599.9,352.8 599.9,352.5 599.9,352.2 599.9,352.0 599.9,351.8 599.9,351.5 599.9,351.2 599.9,351.0 599.9,350.8 599.9,350.5 599.9,350.2 599.9,350.0 599.9,349.8 599.9,349.5 599.9,349.2 599.9,349.0 599.9,348.8 599.9,348.5 599.9,348.2 599.9,348.0 599.9,347.8 599.9,347.5 599.9,347.2 599.9,347.0 599.9,346.8 599.9,346.5 599.9,346.2 599.9,346.0 599.9,345.8 599.9,345.5 599.9,345.2 599.9,345.0 599.9,344.8 599.9,344.5 599.9,344.2 599.9,344.0 599.9,343.8 599.9,343.5 599.9,343.2 599.9,343.0 599.9,342.8 599.9,342.5 599.9,342.2 599.9,342.0 599.9,341.8 599.9,341.5 599.9,341.2 599.9,341.0 599.9,340.8 599.9,340.5 599.9,340.2 599.9,340.0 599.9,339.8 599.9,339.5 599.9,339.2 599.9,339.0 599.9,338.8 599.9,338.5 599.9,338.2 599.9,338.0 599.9,337.8 599.9,337.5 599.9,337.2 599.9,337.0 599.9,336.8 599.9,336.5 599.9,336.2 599.9,336.0 599.9,335.8 599.9,335.5 599.9,335.2 599.9,335.0 599.9,334.8 599.9,334.5 599.9,334.2 599.9,334.0 599.9,333.8 599.9,333.5 599.9,333.2 599.9,333.0 599.9,332.8 599.9,332.5 599.9,332.2 599.9,332.0 599.9,331.8 599.9,331.5 599.9,331.2 599.9,331.0 599.9,330.8 599.9,330.5 599.9,330.2 599.9,330.0 599.9,329.8 599.9,329.5 599.9,329.2 599.9,329.0 599.9,328.8 599.9,328.5 599.9,328.2 599.9,328.0 599.9,327.8 599.9,327.5 599.9,327.2 599.9,327.0 599.9,326.8 599.9,326.5 599.9,326.2 599.9,326.0 599.9,325.8 599.9,325.5 599.9,325.2 599.9,325.0 599.9,324.8 599.9,324.5 599.9,324.2 599.9,324.0 599.9,323.8 599.9,323.5 599.9,323.2 599.9,323.0 599.9,322.8 599.9,322.5 599.9,322.2 599.9,322.0 599.9,321.8 599.9,321.5 599.9,321.2 599.9,321.0 599.9,320.8 599.9,320.5 599.9,320.2 599.9,320.0 599.9,319.8 599.9,319.5 599.9,319.2 599.9,319.0 599.9,318.8 599.9,318.5 599.9,318.2 599.9,318.0 599.9,317.8 599.9,317.5 599.9,317.2 599.9,317.0 599.9,316.8 599.9,316.5 599.9,316.2 599.9,316.0 599.9,315.8 599.9,315.5 599.9,315.2 599.9,315.0 599.9,314.8 599.9,314.5 599.9,314.2 599.9,314.0 599.9,313.8 599.9,313.5 599.9,313.2 599.9,313.0 599.9,312.8 599.9,312.5 599.9,312.2 599.9,312.0 599.9,311.8 599.9,311.5 599.9,311.2 599.9,311.0 599.9,310.8 599.9,310.5 599.9,310.2 599.9,310.0 599.9,309.8 599.9,309.5 599.9,309.2 599.9,309.0 599.9,308.8 599.9,308.5 599.9,308.2 599.9,308.0 599.9,307.8 599.9,307.5 599.9,307.2 599.9,307.0 599.9,306.8 599.9,306.5 599.9,306.2 599.9,306.0 599.9,305.8 599.9,305.5 599.9,305.2 599.9,305.0 599.9,304.8 599.9,304.5 599.9,304.2 599.9,304.0 599.9,303.8 599.9,303.5 599.9,303.2 599.9,303.0 599.9,302.8 599.9,302.5 599.9,302.2 599.9,302.0 599.9,301.8 599.9,301.5 599.9,301.2 599.9,301.0 599.9,300.8 599.9,300.5 599.9,300.2 599.9,300.0 599.9,299.8 599.9,299.5 599.9,299.2 599.9,299.0 599.9,298.8 599.9,298.5 599.9,298.2 599.9,298.0 599.9,297.8 599.9,297.5 599.9,297.2 599.9,297.0 599.9,296.8 599.9,296.5 599.9,296.2 599.9,296.0 599.9,295.8 599.9,295.5 599.9,295.2 599.9,295.0 599.9,294.8 599.9,294.5 599.9,294.2 599.9,294.0 599.9,293.8 599.9,293.5 599.9,293.2 599.9,293.0 599.9,292.8 599.9,292.5 599.9,292.2 599.9,292.0 599.9,291.8 599.9,291.5" fill="none" stroke="#000" stroke-width="1.8"/><polyline points="343.6,426.6 343.6,426.9 343.6,427.1 343.6,427.4 343.6,427.6 343.6,427.9 343.6,428.1 343.6,428.4 343.6,428.6 343.6,428.9 343.6,429.1 343.6,429.4 343.6,429.6 343.6,429.9 343.6,430.1 343.6,430.4 343.6,430.6 343.6,430.9 343.6,431.1 343.6,431.4 343.6,431.6 343.6,431.9 343.6,432.1 343.6,432.4 343.6,432.6 343.6,432.9 343.6,433.1 343.6,433.4 343.6,433.7 343.6,433.9 343.6,434.2 343.6,434.4 343.6,434.7 343.6,434.9 343.6,435.2 343.6,435.4 343.6,435.7 343.6,435.9 343.6,436.2 343.6,436.4 343.6,436.7 343.6,436.9 343.6,437.2 343.6,437.4 343.6,437.7 343.6,437.9 343.6,438.2 343.6,438.4 343.6,438.7 343.6,438.9 343.6,439.2 343.6,439.4 343.6,439.7 343.6,439.9 343.6,440.2 343.6,440.4 343.6,440.7 343.6,441.0 343.6,441.2 343.6,441.5 343.6,441.7 343.6,442.0 343.6,442.2 343.6,442.5 343.6,442.7 343.6,443.0 343.6,443.2 343.6,443.5 343.6,443.7 343.6,444.0 343.6,444.2 343.6,444.5 343.6,444.7 343.6,445.0 343.6,445.2 343.6,445.5 343.6,445.7 343.6,446.0 343.6,446.2 343.6,446.5 343.6,446.7 343.6,447.0 343.6,447.2 343.6,447.5 343.6,447.7 343.6,448.0 343.6,448.2 343.6,448.4 343.6,448.6 343.6,448.9 343.6,449.1 343.6,449.3 343.6,449.5 343.6,449.8 343.6,450.0 343.7,450.2 343.7,450.4 343.7,450.7 343.7,450.9 343.7,451.1 343.7,451.3 343.7,451.6 343.7,451.8 343.8,452.0 343.8,452.2 343.8,452.5 343.8,452.7 343.8,452.9 343.8,453.1 343.9,453.4 343.9,453.6 343.9,453.8 343.9,454.0 344.0,454.3 344.0,454.5 344.0,454.7 344.0,454.9 344.1,455.2 344.1,455.4 344.1,455.6 344.1,455.8 344.2,456.1 344.2,456.3 344.2,456.5 344.3,456.7 344.3,457.0 344.3,457.2 344.4,457.4 344.4,457.6 344.4,457.9 344.5,458.1 344.5,458.3 344.5,458.5 344.6,458.8 344.6,459.0 344.7,459.2 344.7,459.4 344.7,459.6 344.8,459.9 344.8,460.1 344.9,460.3 344.9,460.5 345.0,460.8 345.0,461.0 345.1,461.2 345.1,461.4 345.2,461.6 345.2,461.9 345.3,462.1 345.3,462.3 345.4,462.5 345.4,462.7 345.5,463.0 345.5,463.2 345.6,463.4 345.6,463.6 345.7,463.8 345.7,464.1 345.8,464.3 345.9,464.5 345.9,464.7 346.0,464.9 346.0,465.1 346.1,465.4 346.2,465.6 346.2,465.8 346.3,466.0 346.4,466.2 346.4,466.5 346.5,466.7 346.6,466.9 346.6,467.1 346.7,467.3 346.8,467.5 346.8,467.7 346.9,468.0 347.0,468.2 347.0,468.4 347.1,468.6 347.2,468.8 347.3,469.0 347.3,469.2 347.4,469.5 347.5,469.7 347.6,469.9 347.6,470.1 347.7,470.3 347.8,470.5 347.9,470.7 348.0,470.9 348.0,471.2 348.1,471.4 348.2,471.6 348.3,471.8 348.4,472.0 348.5,472.2 348.6,472.4 348.6,472.6 348.7,472.8 348.8,473.0 348.9,473.2 349.0,473.5 349.1,473.7 349.2,473.9 349.3,474.1 349.4,474.3 349.5,474.5 349.6,474.7 349.6,474.9 349.7,475.1 349.8,475.3 349.9,475.5 350.0,475.7 350.1,475.9 350.2,476.1 350.3,476.3 350.4,476.5 350.5,476.7 350.6,476.9 350.7,477.1 350.8,477.3 350.9,477.5 351.0,477.7 351.2,477.9 351.3,478.1 351.4,478.3 351.5,478.5 351.6,478.7 351.7,478.9 351.8,479.1 351.9,479.3 352.0,479.5 352.1,479.7 352.2,479.9 352.4,480.1 352.5,480.3 352.6,480.5 352.7,480.7 352.8,480.9 352.9,481.1 353.1,481.3 353.2,481.5 353.3,481.7 353.4,481.9 353.5,482.1 353.6,482.2 353.8,482.4 353.9,482.6 354.0,482.8 354.1,483.0 354.3,483.2 354.4,483.4 354.5,483.6 354.6,483.8 354.8,483.9 354.9,484.1 355.0,484.3 355.1,484.5 355.3,484.7 355.4,484.9 355.5,485.1 355.7,485.3 355.8,485.4 355.9,485.6 356.1,485.8 356.2,486.0 356.3,486.2 356.5,486.3 356.6,486.5 356.7,486.7 356.9,486.9 357.0,487.1 357.1,487.2 357.3,487.4 357.4,487.6 357.6,487.8 357.7,488.0 357.8,488.1 358.0,488.3 358.1,488.5 358.3,488.7 358.4,488.8 358.6,489.0 358.7,489.2 358.8,489.4 359.0,489.5 359.1,489.7 359.3,489.9 359.4,490.1 359.6,490.2 359.7,490.4 359.9,490.6 360.0,490.7 360.2,490.9 360.3,491.1 360.5,491.2 360.6,491.4 360.8,491.6 360.9,491.7 361.1,491.9 361.3,492.1 361.4,492.2 361.6,492.4 361.7,492.6 361.9,492.7 362.0,492.9 362.2,493.1 362.3,493.2 362.5,493.4 362.7,493.5 362.8,493.7 363.0,493.9 363.1,494.0 363.3,494.2 363.5,494.3 363.6,494.5 363.8,494.6 364.0,494.8 364.1,494.9 364.3,495.1 364.5,495.3 364.6,495.4 364.8,495.6 365.0,495.7 365.1,495.9 365.3,496.0 365.5,496.2 365.6,496.3 365.8,496.5 366.0,496.6 366.1,496.8 366.3,496.9 366.5,497.1 366.7,497.2 366.8,497.4 367.0,497.5 367.2,497.6 367.4,497.8 367.5,497.9 367.7,498.1 367.9,498.2 368.1,498.4 368.2,498.5 368.4,498.6 368.6,498.8 368.8,498.9 369.0,499.1 369.1,499.2 369.3,499.3 369.5,499.5 369.7,499.6 369.9,499.7 370.0,499.9 370.2,500.0 370.4,500.1 370.6,500.3 370.8,500.4 370.9,500.5 371.1,500.7 371.3,500.8 371.5,500.9 371.7,501.1 371.9,501.2 372.1,501.3 372.3,501.4 372.4,501.6 372.6,501.7 372.8,501.8 373.0,501.9 373.2,502.1 373.4,502.2 373.6,502.3 373.8,502.4 374.0,502.6 374.1,502.7 374.3,502.8 374.5,502.9 374.7,503.0 374.9,503.1 375.1,503.3 375.3,503.4 375.5,503.5 375.7,503.6 375.9,503.7 376.1,503.8 376.3,504.0 376.5,504.1 376.7,504.2 376.9,504.3 377.1,504.4 377.3,504.5 377.5,504.6 377.7,504.7 377.9,504.8 378.1,504.9 378.3,505.0 378.5,505.2 378.7,505.3 378.9,505.4 379.1,505.5 379.3,505.6 379.5,505.7 379.7,505.8 379.9,505.9 380.1,506.0 380.3,506.1 380.5,506.2 380.7,506.3 380.9,506.4 381.1,506.5 381.3,506.6 381.5,506.6 381.7,506.7 381.9,506.8 382.1,506.9 382.3,507.0 382.5,507.1 382.7,507.2 383.0,507.3 383.2,507.4 383.4,507.5 383.6,507.6 383.8,507.6 384.0,507.7 384.2,507.8 384.4,507.9 384.6,508.0 384.8,508.1 385.0,508.2 385.3,508.2 385.5,508.3 385.7,508.4 385.9,508.5 386.1,508.6 386.3,508.6 386.5,508.7 386.7,508.8 387.0,508.9 387.2,508.9 387.4,509.0 387.6,509.1 387.8,509.2 388.0,509.2 388.2,509.3 388.5,509.4 388.7,509.4 388.9,509.5 389.1,509.6 389.3,509.6 389.5,509.7 389.7,509.8 390.0,509.8 390.2,509.9 390.4,510.0 390.6,510.0 390.8,510.1 391.1,510.2 391.3,510.2 391.5,510.3 391.7,510.3 391.9,510.4 392.1,510.5 392.4,510.5 392.6,510.6 392.8,510.6 393.0,510.7 393.2,510.7 393.5,510.8 393.7,510.8 393.9,510.9 394.1,510.9 394.3,511.0 394.6,511.0 394.8,511.1 395.0,511.1 395.2,511.2 395.4,511.2 395.7,511.3 395.9,511.3 396.1,511.4 396.3,511.4 396.6,511.5 396.8,511.5 397.0,511.5 397.2,511.6 397.4,511.6 397.7,511.7 397.9,511.7 398.1,511.7 398.3,511.8 398.6,511.8 398.8,511.8 399.0,511.9 399.2,511.9 399.5,511.9 399.7,512.0 399.9,512.0 400.1,512.0 400.4,512.1 400.6,512.1 400.8,512.1 401.0,512.1 401.3,512.2 401.5,512.2 401.7,512.2 401.9,512.2 402.2,512.3 402.4,512.3 402.6,512.3 402.8,512.3 403.1,512.4 403.3,512.4 403.5,512.4 403.7,512.4 404.0,512.4 404.2,512.4 404.4,512.5 404.6,512.5 404.9,512.5 405.1,512.5 405.3,512.5 405.5,512.5 405.8,512.5 406.0,512.5 406.2,512.6 406.4,512.6 406.7,512.6 406.9,512.6 407.1,512.6 407.3,512.6 407.6,512.6 407.8,512.6 408.0,512.6 408.2,512.6 408.5,512.6 408.7,512.6 409.0,512.6 409.2,512.6 409.5,512.6 409.7,512.6 410.0,512.6 410.2,512.6 410.5,512.6 410.7,512.6 411.0,512.6 411.2,512.6 411.5,512.6 411.7,512.6 412.0,512.6 412.2,512.6 412.5,512.6 412.7,512.6 413.0,512.6 413.2,512.6 413.5,512.6 413.7,512.6 414.0,512.6 414.2,512.6 414.5,512.6 414.7,512.6 415.0,512.6 415.2,512.6 415.5,512.6 415.7,512.6 416.0,512.6 416.2,512.6 416.5,512.6 416.7,512.6 417.0,512.6 417.2,512.6 417.5,512.6 417.7,512.6 418.0,512.6 418.2,512.6 418.5,512.6 418.7,512.6 419.0,512.6 419.2,512.6 419.5,512.6 419.7,512.6 420.0,512.6 420.2,512.6 420.5,512.6 420.7,512.6 421.0,512.6 421.2,512.6 421.5,512.6 421.7,512.6 422.0,512.6 422.2,512.6 422.5,512.6 422.7,512.6 423.0,512.6 423.2,512.6 423.5,512.6 423.7,512.6 424.0,512.6 424.2,512.6 424.5,512.6 424.7,512.6 425.0,512.6 425.2,512.6 425.5,512.6 425.7,512.6 426.0,512.6 426.2,512.6 426.5,512.6 426.7,512.6 427.0,512.6 427.2,512.6 427.5,512.6 427.7,512.6 428.0,512.6 428.2,512.6 428.5,512.6 428.7,512.6 429.0,512.6 429.2,512.6 429.5,512.6 429.7,512.6 430.0,512.6 430.2,512.6 430.5,512.6 430.7,512.6 431.0,512.6 431.2,512.6 431.5,512.6 431.7,512.6 432.0,512.6 432.2,512.6 432.5,512.6 432.7,512.6 433.0,512.6 433.2,512.6 433.5,512.6 433.7,512.6 434.0,512.6 434.2,512.6 434.5,512.6 434.7,512.6 435.0,512.6 435.2,512.6 435.5,512.6 435.7,512.6 436.0,512.6 436.2,512.6 436.5,512.6 436.7,512.6 437.0,512.6 437.2,512.6 437.5,512.6 437.7,512.6 438.0,512.6 438.2,512.6 438.5,512.6 438.7,512.6 439.0,512.6 439.2,512.6 439.5,512.6 439.7,512.6 440.0,512.6 440.2,512.6 440.5,512.6 440.7,512.6 441.0,512.6 441.2,512.6 441.5,512.6 441.7,512.6 442.0,512.6 442.2,512.6 442.5,512.6 442.7,512.6 443.0,512.6 443.2,512.6 443.5,512.6 443.7,512.6 444.0,512.6 444.2,512.6 444.5,512.6 444.7,512.6 445.0,512.6 445.2,512.6 445.5,512.6 445.7,512.6 446.0,512.6 446.2,512.6 446.5,512.6 446.7,512.6 447.0,512.6 447.2,512.6 447.5,512.6 447.7,512.6 448.0,512.6 448.2,512.6 448.5,512.6 448.7,512.6 449.0,512.6 449.2,512.6 449.5,512.6 449.7,512.6 450.0,512.6 450.2,512.6 450.5,512.6 450.7,512.6 451.0,512.6 451.2,512.6 451.5,512.6 451.7,512.6 452.0,512.6 452.2,512.6 452.5,512.6 452.7,512.6 453.0,512.6 453.2,512.6 453.5,512.6 453.7,512.6 454.0,512.6 454.2,512.6 454.5,512.6 454.7,512.6 455.0,512.6 455.2,512.6 455.5,512.6 455.7,512.6 456.0,512.6 456.2,512.6 456.5,512.6 456.7,512.6 457.0,512.6 457.2,512.6 457.5,512.6 457.7,512.6 458.0,512.6 458.2,512.6 458.5,512.6 458.7,512.6 459.0,512.6 459.2,512.6 459.5,512.6 459.7,512.6 460.0,512.6 460.2,512.6 460.5,512.6 460.7,512.6 461.0,512.6 461.2,512.6 461.5,512.6 461.7,512.6 462.0,512.6 462.2,512.6 462.5,512.6 462.7,512.6 463.0,512.6 463.2,512.6 463.5,512.6 463.7,512.6 464.0,512.6 464.2,512.6 464.5,512.6 464.7,512.6 465.0,512.6 465.2,512.6 465.5,512.6 465.7,512.6 466.0,512.6 466.2,512.6 466.5,512.6 466.7,512.6 467.0,512.6 467.2,512.6 467.5,512.6 467.7,512.6 468.0,512.6 468.2,512.6 468.5,512.6 468.7,512.6 469.0,512.6 469.2,512.6 469.5,512.6 469.7,512.6 470.0,512.6 470.2,512.6 470.5,512.6 470.7,512.6 471.0,512.6 471.2,512.6 471.5,512.6 471.7,512.6 472.0,512.6 472.2,512.6 472.5,512.6 472.7,512.6 473.0,512.6 473.2,512.6 473.5,512.6 473.7,512.6 474.0,512.6 474.2,512.6 474.5,512.6 474.7,512.6 475.0,512.6 475.2,512.6 475.5,512.6 475.7,512.6 476.0,512.6 476.2,512.6 476.5,512.6 476.7,512.6 477.0,512.6 477.2,512.6 477.5,512.6 477.7,512.6 478.0,512.6 478.2,512.6 478.5,512.6 478.7,512.6 479.0,512.6 479.2,512.6 479.5,512.6 479.7,512.6 480.0,512.6 480.2,512.6 480.5,512.6 480.7,512.6 481.0,512.6 481.2,512.6 481.5,512.6 481.7,512.6 482.0,512.6 482.2,512.6 482.5,512.6 482.7,512.6 483.0,512.6 483.2,512.6 483.5,512.6 483.7,512.6 484.0,512.6 484.2,512.6 484.5,512.6 484.7,512.6 485.0,512.6 485.2,512.6 485.5,512.6 485.7,512.6 486.0,512.6 486.2,512.6 486.5,512.6 486.7,512.6 487.0,512.6 487.2,512.6 487.5,512.6 487.7,512.6 488.0,512.6 488.2,512.6 488.5,512.6 488.7,512.6 489.0,512.6 489.2,512.6 489.5,512.6 489.7,512.6 490.0,512.6 490.2,512.6 490.5,512.6 490.7,512.6 491.0,512.6 491.2,512.6 491.5,512.6 491.7,512.6 492.0,512.6 492.2,512.6 492.5,512.6 492.7,512.6 493.0,512.6 493.2,512.6 493.5,512.6 493.7,512.6 494.0,512.6 494.2,512.6 494.5,512.6 494.7,512.6 495.0,512.6 495.2,512.6 495.5,512.6 495.7,512.6 496.0,512.6 496.2,512.6 496.5,512.6 496.7,512.6 497.0,512.6 497.2,512.6 497.5,512.6 497.7,512.6 498.0,512.6 498.2,512.6 498.5,512.6 498.7,512.6 499.0,512.6 499.2,512.6 499.5,512.6 499.7,512.6 500.0,512.6 500.2,512.6 500.5,512.6 500.7,512.6 501.0,512.6 501.2,512.6 501.5,512.6 501.7,512.6 502.0,512.6 502.2,512.6 502.5,512.6 502.7,512.6 503.0,512.6 503.2,512.6 503.5,512.6 503.7,512.6 504.0,512.6 504.2,512.6 504.5,512.6 504.7,512.6 505.0,512.6 505.2,512.6 505.5,512.6 505.7,512.6 506.0,512.6 506.2,512.6 506.5,512.6 506.7,512.6 507.0,512.6 507.2,512.6 507.5,512.6 507.7,512.6 508.0,512.6 508.2,512.6 508.5,512.6 508.7,512.6 509.0,512.6 509.2,512.6 509.5,512.6 509.7,512.6 510.0,512.6 510.2,512.6 510.5,512.6 510.7,512.6 511.0,512.6 511.2,512.6 511.5,512.6 511.7,512.6 512.0,512.6 512.2,512.6 512.5,512.6 512.7,512.6 513.0,512.6 513.2,512.6 513.5,512.6 513.7,512.6 514.0,512.6 514.2,512.6 514.5,512.6 514.7,512.6 515.0,512.6 515.2,512.6 515.5,512.6 515.7,512.6 515.9,512.6 516.1,512.6 516.4,512.6 516.6,512.6 516.8,512.6 517.1,512.6 517.3,512.6 517.5,512.6 517.7,512.5 518.0,512.5 518.2,512.5 518.4,512.5 518.6,512.5 518.9,512.5 519.1,512.5 519.3,512.5 519.6,512.5 519.8,512.4 520.0,512.4 520.2,512.4 520.5,512.4 520.7,512.4 520.9,512.4 521.1,512.3 521.4,512.3 521.6,512.3 521.8,512.3 522.1,512.2 522.3,512.2 522.5,512.2 522.7,512.2 523.0,512.2 523.2,512.1 523.4,512.1 523.6,512.1 523.9,512.0 524.1,512.0 524.3,512.0 524.5,512.0 524.8,511.9 525.0,511.9 525.2,511.9 525.4,511.8 525.7,511.8 525.9,511.8 526.1,511.7 526.3,511.7 526.6,511.7 526.8,511.6 527.0,511.6 527.2,511.5 527.5,511.5 527.7,511.5 527.9,511.4 528.1,511.4 528.4,511.3 528.6,511.3 528.8,511.2 529.0,511.2 529.3,511.2 529.5,511.1 529.7,511.1 529.9,511.0 530.2,511.0 530.4,510.9 530.6,510.9 530.8,510.8 531.0,510.8 531.3,510.7 531.5,510.7 531.7,510.6 531.9,510.6 532.2,510.5 532.4,510.4 532.6,510.4 532.8,510.3 533.0,510.3 533.3,510.2 533.5,510.2 533.7,510.1 533.9,510.0 534.1,510.0 534.4,509.9 534.6,509.9 534.8,509.8 535.0,509.7 535.2,509.7 535.4,509.6 535.7,509.5 535.9,509.5 536.1,509.4 536.3,509.3 536.5,509.3 536.8,509.2 537.0,509.1 537.2,509.0 537.4,509.0 537.6,508.9 537.8,508.8 538.1,508.8 538.3,508.7 538.5,508.6 538.7,508.5 538.9,508.5 539.1,508.4 539.3,508.3 539.6,508.2 539.8,508.1 540.0,508.1 540.2,508.0 540.4,507.9 540.6,507.8 540.8,507.7 541.0,507.7 541.3,507.6 541.5,507.5 541.7,507.4 541.9,507.3 542.1,507.2 542.3,507.1 542.5,507.1 542.7,507.0 542.9,506.9 543.2,506.8 543.4,506.7 543.6,506.6 543.8,506.5 544.0,506.4 544.2,506.3 544.4,506.2 544.6,506.1 544.8,506.0 545.0,505.9 545.2,505.9 545.4,505.8 545.6,505.7 545.8,505.6 546.1,505.5 546.3,505.4 546.5,505.3 546.7,505.2 546.9,505.1 547.1,505.0 547.3,504.9 547.5,504.7 547.7,504.6 547.9,504.5 548.1,504.4 548.3,504.3 548.5,504.2 548.7,504.1 548.9,504.0 549.1,503.9 549.3,503.8 549.5,503.7 549.7,503.6 549.9,503.5 550.1,503.3 550.3,503.2 550.5,503.1 550.7,503.0 550.9,502.9 551.1,502.8 551.3,502.7 551.5,502.5 551.7,502.4 551.9,502.3 552.1,502.2 552.2,502.1 552.4,501.9 552.6,501.8 552.8,501.7 553.0,501.6 553.2,501.5 553.4,501.3 553.6,501.2 553.8,501.1 554.0,501.0 554.2,500.8 554.4,500.7 554.5,500.6 554.7,500.5 554.9,500.3 555.1,500.2 555.3,500.1 555.5,499.9 555.7,499.8 555.9,499.7 556.1,499.6 556.2,499.4 556.4,499.3 556.6,499.2 556.8,499.0 557.0,498.9 557.2,498.8 557.3,498.6 557.5,498.5 557.7,498.3 557.9,498.2 558.1,498.1 558.3,497.9 558.4,497.8 558.6,497.7 558.8,497.5 559.0,497.4 559.2,497.2 559.3,497.1 559.5,496.9 559.7,496.8 559.9,496.7 560.0,496.5 560.2,496.4 560.4,496.2 560.6,496.1 560.7,495.9 560.9,495.8 561.1,495.6 561.3,495.5 561.4,495.3 561.6,495.2 561.8,495.0 562.0,494.9 562.1,494.7 562.3,494.6 562.5,494.4 562.6,494.3 562.8,494.1 563.0,494.0 563.1,493.8 563.3,493.7 563.5,493.5 563.6,493.4 563.8,493.2 564.0,493.0 564.1,492.9 564.3,492.7 564.5,492.6 564.6,492.4 564.8,492.3 565.0,492.1 565.1,491.9 565.3,491.8 565.4,491.6 565.6,491.5 565.8,491.3 565.9,491.1 566.1,491.0 566.2,490.8 566.4,490.6 566.5,490.5 566.7,490.3 566.9,490.1 567.0,490.0 567.2,489.8 567.3,489.6 567.5,489.5 567.6,489.3 567.8,489.1 567.9,489.0 568.1,488.8 568.2,488.6 568.4,488.5 568.5,488.3 568.7,488.1 568.8,487.9 569.0,487.8 569.1,487.6 569.3,487.4 569.4,487.2 569.6,487.1 569.7,486.9 569.9,486.7 570.0,486.5 570.2,486.4 570.3,486.2 570.4,486.0 570.6,485.8 570.7,485.7 570.9,485.5 571.0,485.3 571.2,485.1 571.3,484.9 571.4,484.8 571.6,484.6 571.7,484.4 571.8,484.2 572.0,484.0 572.1,483.8 572.3,483.7 572.4,483.5 572.5,483.3 572.7,483.1 572.8,482.9 572.9,482.7 573.1,482.6 573.2,482.4 573.3,482.2 573.4,482.0 573.6,481.8 573.7,481.6 573.8,481.4 574.0,481.2 574.1,481.0 574.2,480.9 574.3,480.7 574.5,480.5 574.6,480.3 574.7,480.1 574.8,479.9 575.0,479.7 575.1,479.5 575.2,479.3 575.3,479.1 575.4,478.9 575.6,478.7 575.7,478.6 575.8,478.4 575.9,478.2 576.0,478.0 576.2,477.8 576.3,477.6 576.4,477.4 576.5,477.2 576.6,477.0 576.7,476.8 576.8,476.6 577.0,476.4 577.1,476.2 577.2,476.0 577.3,475.8 577.4,475.6 577.5,475.4 577.6,475.2 577.7,475.0 577.8,474.8 577.9,474.6 578.0,474.4 578.1,474.2 578.2,474.0 578.4,473.8 578.5,473.6 578.6,473.4 578.7,473.2 578.8,473.0 578.9,472.8 579.0,472.6 579.1,472.3 579.2,472.1 579.3,471.9 579.4,471.7 579.4,471.5 579.5,471.3 579.6,471.1 579.7,470.9 579.8,470.7 579.9,470.5 580.0,470.3 580.1,470.1 580.2,469.9 580.3,469.7 580.4,469.4 580.5,469.2 580.6,469.0 580.6,468.8 580.7,468.6 580.8,468.4 580.9,468.2 581.0,468.0 581.1,467.8 581.2,467.5 581.2,467.3 581.3,467.1 581.4,466.9 581.5,466.7 581.6,466.5 581.6,466.3 581.7,466.1 581.8,465.8 581.9,465.6 582.0,465.4 582.0,465.2 582.1,465.0 582.2,464.8 582.3,464.6 582.3,464.3 582.4,464.1 582.5,463.9 582.5,463.7 582.6,463.5 582.7,463.3 582.8,463.0 582.8,462.8 582.9,462.6 583.0,462.4 583.0,462.2 583.1,461.9 583.2,461.7 583.2,461.5 583.3,461.3 583.4,461.1 583.4,460.9 583.5,460.6 583.5,460.4 583.6,460.2 583.7,460.0 583.7,459.8 583.8,459.5 583.8,459.3 583.9,459.1 583.9,458.9 584.0,458.7 584.1,458.4 584.1,458.2 584.2,458.0 584.2,457.8 584.3,457.5 584.3,457.3 584.4,457.1 584.4,456.9 584.5,456.7 584.5,456.4 584.6,456.2 584.6,456.0 584.7,455.8 584.7,455.5 584.7,455.3 584.8,455.1 584.8,454.9 584.9,454.6 584.9,454.4 585.0,454.2 585.0,454.0 585.0,453.7 585.1,453.5 585.1,453.3 585.2,453.1 585.2,452.8 585.2,452.6 585.3,452.4 585.3,452.2 585.3,451.9 585.4,451.7 585.4,451.5 585.4,451.3 585.5,451.0 585.5,450.8 585.5,450.6 585.5,450.4 585.6,450.1 585.6,449.9 585.6,449.7 585.7,449.5 585.7,449.2 585.7,449.0 585.7,448.8 585.7,448.6 585.8,448.3 585.8,448.1 585.8,447.9 585.8,447.6 585.9,447.4 585.9,447.2 585.9,447.0 585.9,446.7 585.9,446.5 585.9,446.3 586.0,446.1 586.0,445.8 586.0,445.6 586.0,445.4 586.0,445.1 586.0,444.9 586.0,444.7 586.0,444.5 586.0,444.2 586.1,444.0 586.1,443.8 586.1,443.6 586.1,443.3 586.1,443.1 586.1,442.9 586.1,442.6 586.1,442.4 586.1,442.2 586.1,442.0 586.1,441.7 586.1,441.5 586.1,441.2 586.1,441.0 586.1,440.8 586.1,440.5 586.1,440.2 586.1,440.0 586.1,439.8 586.1,439.5 586.1,439.2 586.1,439.0 586.1,438.8 586.1,438.5 586.1,438.2 586.1,438.0 586.1,437.8 586.1,437.5 586.1,437.2 586.1,437.0 586.1,436.8 586.1,436.5 586.1,436.2 586.1,436.0 586.1,435.8 586.1,435.5 586.1,435.2 586.1,435.0 586.1,434.8 586.1,434.5 586.1,434.2 586.1,434.0 586.1,433.8 586.1,433.5 586.1,433.2 586.1,433.0 586.1,432.8 586.1,432.5 586.1,432.2 586.1,432.0 586.1,431.8 586.1,431.5 586.1,431.2 586.1,431.0 586.1,430.8 586.1,430.5 586.1,430.2 586.1,430.0 586.1,429.8 586.1,429.5 586.1,429.2 586.1,429.0 586.1,428.8 586.1,428.5 586.1,428.2 586.1,428.0 586.1,427.8 586.1,427.5 586.1,427.2 586.1,427.0 586.1,426.8 586.1,426.5 586.1,426.2 586.1,426.0 586.1,425.8 586.1,425.5 586.1,425.2 586.1,425.0 586.1,424.8 586.1,424.5 586.1,424.2 586.1,424.0 586.1,423.8 586.1,423.5 586.1,423.2 586.1,423.0 586.1,422.8 586.1,422.5 586.1,422.2 586.1,422.0 586.1,421.8 586.1,421.5 586.1,421.2 586.1,421.0 586.1,420.8 586.1,420.5 586.1,420.2 586.1,420.0 586.1,419.8 586.1,419.5 586.1,419.2 586.1,419.0 586.1,418.8 586.1,418.5 586.1,418.2 586.1,418.0 586.1,417.8 586.1,417.5 586.1,417.2 586.1,417.0 586.1,416.8 586.1,416.5 586.1,416.2 586.1,416.0 586.1,415.8 586.1,415.5 586.1,415.2 586.1,415.0 586.1,414.8 586.1,414.5 586.1,414.2 586.1,414.0 586.1,413.8 586.1,413.5 586.1,413.2 586.1,413.0 586.1,412.8 586.1,412.5 586.1,412.2 586.1,412.0 586.1,411.8 586.1,411.5 586.1,411.2 586.1,411.0 586.1,410.8 586.1,410.5 586.1,410.2 586.1,410.0 586.1,409.8 586.1,409.5 586.1,409.2 586.1,409.0 586.1,408.8 586.1,408.5 586.1,408.2 586.1,408.0 586.1,407.8 586.1,407.5 586.1,407.2 586.1,407.0 586.1,406.8 586.1,406.5 586.1,406.2 586.1,406.0 586.1,405.8 586.1,405.5 586.1,405.2 586.1,405.0 586.1,404.8 586.1,404.5 586.1,404.2 586.1,404.0 586.1,403.8 586.1,403.5 586.1,403.2 586.1,403.0 586.1,402.8 586.1,402.5 586.1,402.2 586.1,402.0 586.1,401.8 586.1,401.5 586.1,401.2 586.1,401.0 586.1,400.8 586.1,400.5 586.1,400.2 586.1,400.0 586.1,399.8 586.1,399.5 586.1,399.2 586.1,399.0 586.1,398.8 586.1,398.5 586.1,398.2 586.1,398.0 586.1,397.8 586.1,397.5 586.1,397.2 586.1,397.0 586.1,396.8 586.1,396.5 586.1,396.2 586.1,396.0 586.1,395.8 586.1,395.5 586.1,395.2 586.1,395.0 586.1,394.8 586.1,394.5 586.1,394.2 586.1,394.0 586.1,393.8 586.1,393.5 586.1,393.2 586.1,393.0 586.1,392.8 586.1,392.5 586.1,392.2 586.1,392.0 586.1,391.8 586.1,391.5 586.1,391.2 586.1,391.0 586.1,390.8 586.1,390.5 586.1,390.2 586.1,390.0 586.1,389.8 586.1,389.5 586.1,389.2 586.1,389.0 586.1,388.8 586.1,388.5 586.1,388.2 586.1,388.0 586.1,387.8 586.1,387.5 586.1,387.2 586.1,387.0 586.1,386.8 586.1,386.5 586.1,386.2 586.1,386.0 586.1,385.8 586.1,385.5 586.1,385.2 586.1,385.0 586.1,384.8 586.1,384.5 586.1,384.2 586.1,384.0 586.1,383.8 586.1,383.5 586.1,383.2 586.1,383.0 586.1,382.8 586.1,382.5 586.1,382.2 586.1,382.0 586.1,381.8 586.1,381.5 586.1,381.2 586.1,381.0 586.1,380.8 586.1,380.5 586.1,380.2 586.1,380.0 586.1,379.8 586.1,379.5 586.1,379.2 586.1,379.0 586.1,378.8 586.1,378.5 586.1,378.2 586.1,378.0 586.1,377.8 586.1,377.5 586.1,377.2 586.1,377.0 586.1,376.8 586.1,376.5 586.1,376.2 586.1,376.0 586.1,375.8 586.1,375.5 586.1,375.2 586.1,375.0 586.1,374.8 586.1,374.5 586.1,374.2 586.1,374.0 586.1,373.8 586.1,373.5 586.1,373.2 586.1,373.0 586.1,372.8 586.1,372.5 586.1,372.2 586.1,372.0 586.1,371.8 586.1,371.5 586.1,371.2 586.1,371.0 586.1,370.8 586.1,370.5 586.1,370.2 586.1,370.0 586.1,369.8 586.1,369.5 586.1,369.2 586.1,369.0 586.1,368.8 586.1,368.5 586.1,368.2 586.1,368.0 586.1,367.8 586.1,367.5 586.1,367.2 586.1,367.0 586.1,366.8 586.1,366.5 586.1,366.2 586.1,366.0 586.1,365.8 586.1,365.5 586.1,365.2 586.1,365.0 586.1,364.8 586.1,364.5 586.1,364.2 586.1,364.0 586.1,363.8 586.1,363.5 586.1,363.2 586.1,363.0 586.1,362.8 586.1,362.5 586.1,362.2 586.1,362.0 586.1,361.8 586.1,361.5 586.1,361.2 586.1,361.0 586.1,360.8 586.1,360.5 586.1,360.2 586.1,360.0 586.1,359.8 586.1,359.5 586.1,359.2 586.1,359.0 586.1,358.8 586.1,358.5 586.1,358.2 586.1,358.0 586.1,357.8 586.1,357.5 586.1,357.2 586.1,357.0 586.1,356.8 586.1,356.5 586.1,356.2 586.1,356.0 586.1,355.8 586.1,355.5 586.1,355.2 586.1,355.0 586.1,354.8 586.1,354.5 586.1,354.2 586.1,354.0 586.1,353.8 586.1,353.5 586.1,353.2 586.1,353.0 586.1,352.8 586.1,352.5 586.1,352.2 586.1,352.0 586.1,351.8 586.1,351.5 586.1,351.2 586.1,351.0 586.1,350.8 586.1,350.5 586.1,350.2 586.1,350.0 586.1,349.8 586.1,349.5 586.1,349.2 586.1,349.0 586.1,348.8 586.1,348.5 586.1,348.2 586.1,348.0 586.1,347.8 586.1,347.5 586.1,347.2 586.1,347.0 586.1,346.8 586.1,346.5 586.1,346.2 586.1,346.0 586.1,345.8 586.1,345.5 586.1,345.2 586.1,345.0 586.1,344.8 586.1,344.5 586.1,344.2 586.1,344.0 586.1,343.8 586.1,343.5 586.1,343.2 586.1,343.0 586.1,342.8 586.1,342.5 586.1,342.2 586.1,342.0 586.1,341.8 586.1,341.5 586.1,341.2 586.1,341.0 586.1,340.8 586.1,340.5 586.1,340.2 586.1,340.0 586.1,339.8 586.1,339.5 586.1,339.2 586.1,339.0 586.1,338.8 586.1,338.5 586.1,338.2 586.1,338.0 586.1,337.8 586.1,337.5 586.1,337.2 586.1,337.0 586.1,336.8 586.1,336.5 586.1,336.2 586.1,336.0 586.1,335.8 586.1,335.5 586.1,335.2 586.1,335.0 586.1,334.8 586.1,334.5 586.1,334.2 586.1,334.0 586.1,333.8 586.1,333.5 586.1,333.2 586.1,333.0 586.1,332.8 586.1,332.5 586.1,332.2 586.1,332.0 586.1,331.8 586.1,331.5 586.1,331.2 586.1,331.0 586.1,330.8 586.1,330.5 586.1,330.2 586.1,330.0 586.1,329.8 586.1,329.5 586.1,329.2 586.1,329.0 586.1,328.8 586.1,328.5 586.1,328.2 586.1,328.0 586.1,327.8 586.1,327.5 586.1,327.2 586.1,327.0 586.1,326.8 586.1,326.5 586.1,326.2 586.1,326.0 586.1,325.8 586.1,325.5 586.1,325.2 586.1,325.0 586.1,324.8 586.1,324.5 586.1,324.2 586.1,324.0 586.1,323.8 586.1,323.5 586.1,323.2 586.1,323.0 586.1,322.8 586.1,322.5 586.1,322.2 586.1,322.0 586.1,321.8 586.1,321.5 586.1,321.2 586.1,321.0 586.1,320.8 586.1,320.5 586.1,320.2 586.1,320.0 586.1,319.8 586.1,319.5 586.1,319.2 586.1,319.0 586.1,318.8 586.1,318.5 586.1,318.2 586.1,318.0 586.1,317.8 586.1,317.5 586.1,317.2 586.1,317.0 586.1,316.8 586.1,316.5 586.1,316.2 586.1,316.0 586.1,315.8 586.1,315.5 586.1,315.2 586.1,315.0 586.1,314.8 586.1,314.5 586.1,314.2 586.1,314.0 586.1,313.8 586.1,313.5 586.1,313.2 586.1,313.0 586.1,312.8 586.1,312.5 586.1,312.2 586.1,312.0 586.1,311.8 586.1,311.5 586.1,311.2 586.1,311.0 586.1,310.8 586.1,310.5 586.1,310.2 586.1,310.0 586.1,309.8 586.1,309.5 586.1,309.2 586.1,309.0 586.1,308.8 586.1,308.5 586.1,308.2 586.1,308.0 586.1,307.8 586.1,307.5 586.1,307.2 586.1,307.0 586.1,306.8 586.1,306.5 586.1,306.2 586.1,306.0 586.1,305.8 586.1,305.5 586.1,305.2 586.1,305.0 586.1,304.8 586.1,304.5 586.1,304.2 586.1,304.0 586.1,303.8 586.1,303.5 586.1,303.2 586.1,303.0 586.1,302.8 586.1,302.5 586.1,302.2 586.1,302.0 586.1,301.8 586.1,301.5 586.1,301.2 586.1,301.0 586.1,300.8 586.1,300.5 586.1,300.2 586.1,300.0 586.1,299.8 586.1,299.5 586.1,299.2 586.1,299.0 586.1,298.8 586.1,298.5 586.1,298.2 586.1,298.0 586.1,297.8 586.1,297.5 586.1,297.2 586.1,297.0 586.1,296.8 586.1,296.5 586.1,296.2 586.1,296.0 586.1,295.8 586.1,295.5 586.1,295.2 586.1,295.0 586.1,294.8 586.1,294.5 586.1,294.2 586.1,294.0 586.1,293.8 586.1,293.5 586.1,293.2 586.1,293.0 586.1,292.8 586.1,292.5 586.1,292.2 586.1,292.0 586.1,291.8 586.1,291.5" fill="none" stroke="#000" stroke-width="1.8"/><polyline points="327.8,429.6 345.6,433.9 327.8,437.9 345.6,442.2 327.8,446.5 345.7,450.3 328.2,455.9 346.4,457.8 329.8,465.3 348.1,465.0 332.4,474.5 350.6,472.1 336.2,483.3 353.9,478.7 340.9,491.6 357.9,485.0 346.6,499.3 362.7,490.7 353.1,506.3 368.1,495.8 360.4,512.4 374.1,500.3 368.4,517.7 380.6,504.0 377.0,521.9 387.4,506.9 386.0,525.1 394.6,509.0 395.3,527.3 401.9,510.2 404.8,528.3 409.5,510.6 413.7,528.4 418.0,510.6 422.2,528.4 426.5,510.6 430.7,528.4 435.0,510.6 439.2,528.4 443.5,510.6 447.7,528.4 452.0,510.6 456.2,528.4 460.5,510.6 464.7,528.4 469.0,510.6 473.2,528.4 477.5,510.6 481.7,528.4 486.0,510.6 490.2,528.4 494.5,510.6 498.7,528.4 503.0,510.6 507.2,528.4 511.5,510.6 515.8,528.4 519.4,510.5 525.3,527.8 526.9,509.6 534.6,526.2 534.2,507.9 543.7,523.5 541.3,505.4 552.5,519.9 548.1,502.1 560.8,515.4 554.5,498.2 568.5,510.0 560.5,493.5 575.7,503.7 565.9,488.3 582.1,496.8 570.6,482.5 587.7,489.1 574.8,476.2 592.4,481.0 578.2,469.5 596.3,472.3 580.9,462.4 599.1,463.3 582.7,455.1 601.0,454.0 583.8,447.7 601.8,444.6 584.1,440.0 601.9,435.8 584.1,431.5 601.9,427.2 584.1,423.0 601.9,418.8 584.1,414.5 601.9,410.2 584.1,406.0 601.9,401.8 584.1,397.5 601.9,393.2 584.1,389.0 601.9,384.8 584.1,380.5 601.9,376.2 584.1,372.0 601.9,367.8 584.1,363.5 601.9,359.2 584.1,355.0 601.9,350.8 584.1,346.5 601.9,342.2 584.1,338.0 601.9,333.8 584.1,329.5 601.9,325.2 584.1,321.0 601.9,316.8 584.1,312.5 601.9,308.2 584.1,304.0 601.9,299.8 584.1,295.5" fill="none" stroke="#000" stroke-width="1.6" stroke-linejoin="miter" stroke-miterlimit="3"/><polyline points="336.7,426.6 336.7,427.6 336.7,428.6 336.7,429.6 336.7,430.6 336.7,431.6 336.7,432.6 336.7,433.7 336.7,434.7 336.7,435.7 336.7,436.7 336.7,437.7 336.7,438.7 336.7,439.7 336.7,440.7 336.7,441.7 336.7,442.7 336.7,443.7 336.7,444.7 336.7,445.7 336.7,446.7 336.7,447.8 336.7,448.8 336.7,449.8 336.8,450.8 336.8,451.8 336.9,452.7 337.0,453.7 337.1,454.7 337.2,455.7 337.3,456.7 337.4,457.7 337.6,458.7 337.7,459.7 337.9,460.7 338.1,461.7 338.3,462.6 338.5,463.6 338.8,464.6 339.0,465.6 339.3,466.5 339.5,467.5 339.8,468.5 340.1,469.4 340.4,470.4 340.8,471.3 341.1,472.3 341.4,473.2 341.8,474.1 342.2,475.1 342.6,476.0 343.0,476.9 343.4,477.8 343.8,478.7 344.3,479.6 344.7,480.5 345.2,481.4 345.6,482.3 346.1,483.1 346.6,484.0 347.2,484.9 347.7,485.7 348.2,486.6 348.8,487.4 349.3,488.2 349.9,489.0 350.5,489.9 351.1,490.7 351.7,491.5 352.3,492.3 352.9,493.0 353.6,493.8 354.2,494.6 354.9,495.3 355.5,496.1 356.2,496.8 356.9,497.5 357.6,498.2 358.3,498.9 359.0,499.6 359.8,500.3 360.5,501.0 361.3,501.7 362.0,502.3 362.8,503.0 363.6,503.6 364.3,504.2 365.1,504.8 365.9,505.4 366.7,506.0 367.6,506.6 368.4,507.2 369.2,507.7 370.1,508.3 370.9,508.8 371.8,509.3 372.6,509.8 373.5,510.3 374.4,510.8 375.3,511.3 376.1,511.7 377.0,512.2 377.9,512.6 378.9,513.0 379.8,513.4 380.7,513.8 381.6,514.2 382.5,514.6 383.5,514.9 384.4,515.3 385.4,515.6 386.3,515.9 387.3,516.2 388.2,516.5 389.2,516.8 390.1,517.1 391.1,517.3 392.1,517.6 393.1,517.8 394.0,518.0 395.0,518.2 396.0,518.4 397.0,518.5 398.0,518.7 399.0,518.8 400.0,519.0 401.0,519.1 402.0,519.2 403.0,519.3 403.9,519.3 404.9,519.4 405.9,519.4 406.9,519.5 407.9,519.5 409.0,519.5 410.0,519.5 411.0,519.5 412.0,519.5 413.0,519.5 414.0,519.5 415.0,519.5 416.0,519.5 417.0,519.5 418.0,519.5 419.0,519.5 420.0,519.5 421.0,519.5 422.0,519.5 423.0,519.5 424.0,519.5 425.0,519.5 426.0,519.5 427.0,519.5 428.0,519.5 429.0,519.5 430.0,519.5 431.0,519.5 432.0,519.5 433.0,519.5 434.0,519.5 435.0,519.5 436.0,519.5 437.0,519.5 438.0,519.5 439.0,519.5 440.0,519.5 441.0,519.5 442.0,519.5 443.0,519.5 444.0,519.5 445.0,519.5 446.0,519.5 447.0,519.5 448.0,519.5 449.0,519.5 450.0,519.5 451.0,519.5 452.0,519.5 453.0,519.5 454.0,519.5 455.0,519.5 456.0,519.5 457.0,519.5 458.0,519.5 459.0,519.5 460.0,519.5 461.0,519.5 462.0,519.5 463.0,519.5 464.0,519.5 465.0,519.5 466.0,519.5 467.0,519.5 468.0,519.5 469.0,519.5 470.0,519.5 471.0,519.5 472.0,519.5 473.0,519.5 474.0,519.5 475.0,519.5 476.0,519.5 477.0,519.5 478.0,519.5 479.0,519.5 480.0,519.5 481.0,519.5 482.0,519.5 483.0,519.5 484.0,519.5 485.0,519.5 486.0,519.5 487.0,519.5 488.0,519.5 489.0,519.5 490.0,519.5 491.0,519.5 492.0,519.5 493.0,519.5 494.0,519.5 495.0,519.5 496.0,519.5 497.0,519.5 498.0,519.5 499.0,519.5 500.0,519.5 501.0,519.5 502.0,519.5 503.0,519.5 504.0,519.5 505.0,519.5 506.0,519.5 507.0,519.5 508.0,519.5 509.0,519.5 510.0,519.5 511.0,519.5 512.0,519.5 513.0,519.5 514.0,519.5 515.0,519.5 516.0,519.5 517.0,519.5 518.0,519.4 519.0,519.4 520.0,519.3 521.0,519.3 522.0,519.2 523.0,519.1 524.0,519.0 525.0,518.9 526.0,518.7 527.0,518.6 527.9,518.4 528.9,518.2 529.9,518.1 530.9,517.9 531.9,517.7 532.8,517.4 533.8,517.2 534.8,516.9 535.8,516.7 536.7,516.4 537.7,516.1 538.6,515.8 539.6,515.5 540.5,515.2 541.5,514.9 542.4,514.5 543.3,514.2 544.3,513.8 545.2,513.4 546.1,513.0 547.0,512.6 547.9,512.2 548.8,511.8 549.7,511.3 550.6,510.9 551.5,510.4 552.4,509.9 553.3,509.5 554.1,509.0 555.0,508.5 555.9,507.9 556.7,507.4 557.6,506.9 558.4,506.3 559.2,505.8 560.0,505.2 560.8,504.6 561.7,504.0 562.5,503.4 563.2,502.8 564.0,502.2 564.8,501.5 565.6,500.9 566.3,500.2 567.1,499.6 567.8,498.9 568.5,498.2 569.3,497.5 570.0,496.8 570.7,496.1 571.4,495.4 572.1,494.7 572.7,493.9 573.4,493.2 574.1,492.4 574.7,491.7 575.4,490.9 576.0,490.1 576.6,489.3 577.2,488.6 577.8,487.8 578.4,486.9 579.0,486.1 579.5,485.3 580.1,484.5 580.6,483.6 581.2,482.8 581.7,481.9 582.2,481.1 582.7,480.2 583.2,479.3 583.7,478.5 584.2,477.6 584.6,476.7 585.1,475.8 585.5,474.9 585.9,474.0 586.3,473.1 586.7,472.2 587.1,471.2 587.5,470.3 587.8,469.4 588.2,468.4 588.5,467.5 588.9,466.6 589.2,465.6 589.5,464.7 589.8,463.7 590.1,462.7 590.3,461.8 590.6,460.8 590.8,459.8 591.0,458.9 591.3,457.9 591.5,456.9 591.7,455.9 591.8,454.9 592.0,453.9 592.2,453.0 592.3,452.0 592.4,451.0 592.5,450.0 592.6,449.0 592.7,448.0 592.8,447.0 592.9,446.0 592.9,445.0 593.0,444.0 593.0,443.0 593.0,442.0 593.0,441.0 593.0,440.0 593.0,439.0 593.0,438.0 593.0,437.0 593.0,436.0 593.0,435.0 593.0,434.0 593.0,433.0 593.0,432.0 593.0,431.0 593.0,430.0 593.0,429.0 593.0,428.0 593.0,427.0 593.0,426.0 593.0,425.0 593.0,424.0 593.0,423.0 593.0,422.0 593.0,421.0 593.0,420.0 593.0,419.0 593.0,418.0 593.0,417.0 593.0,416.0 593.0,415.0 593.0,414.0 593.0,413.0 593.0,412.0 593.0,411.0 593.0,410.0 593.0,409.0 593.0,408.0 593.0,407.0 593.0,406.0 593.0,405.0 593.0,404.0 593.0,403.0 593.0,402.0 593.0,401.0 593.0,400.0 593.0,399.0 593.0,398.0 593.0,397.0 593.0,396.0 593.0,395.0 593.0,394.0 593.0,393.0 593.0,392.0 593.0,391.0 593.0,390.0 593.0,389.0 593.0,388.0 593.0,387.0 593.0,386.0 593.0,385.0 593.0,384.0 593.0,383.0 593.0,382.0 593.0,381.0 593.0,380.0 593.0,379.0 593.0,378.0 593.0,377.0 593.0,376.0 593.0,375.0 593.0,374.0 593.0,373.0 593.0,372.0 593.0,371.0 593.0,370.0 593.0,369.0 593.0,368.0 593.0,367.0 593.0,366.0 593.0,365.0 593.0,364.0 593.0,363.0 593.0,362.0 593.0,361.0 593.0,360.0 593.0,359.0 593.0,358.0 593.0,357.0 593.0,356.0 593.0,355.0 593.0,354.0 593.0,353.0 593.0,352.0 593.0,351.0 593.0,350.0 593.0,349.0 593.0,348.0 593.0,347.0 593.0,346.0 593.0,345.0 593.0,344.0 593.0,343.0 593.0,342.0 593.0,341.0 593.0,340.0 593.0,339.0 593.0,338.0 593.0,337.0 593.0,336.0 593.0,335.0 593.0,334.0 593.0,333.0 593.0,332.0 593.0,331.0 593.0,330.0 593.0,329.0 593.0,328.0 593.0,327.0 593.0,326.0 593.0,325.0 593.0,324.0 593.0,323.0 593.0,322.0 593.0,321.0 593.0,320.0 593.0,319.0 593.0,318.0 593.0,317.0 593.0,316.0 593.0,315.0 593.0,314.0 593.0,313.0 593.0,312.0 593.0,311.0 593.0,310.0 593.0,309.0 593.0,308.0 593.0,307.0 593.0,306.0 593.0,305.0 593.0,304.0 593.0,303.0 593.0,302.0 593.0,301.0 593.0,300.0 593.0,299.0 593.0,298.0 593.0,297.0 593.0,296.0 593.0,295.0 593.0,294.0 593.0,293.0 593.0,292.0" fill="none" stroke="#000" stroke-opacity="0.45" stroke-width="0.9" stroke-dasharray="6 2 1 2"/>
<rect x="448.6" y="510" width="2.5" height="18" fill="#fff"/>
<path d="M448.4,510.5V528M451.3,510.5V528" stroke="#000" stroke-width="1.1"/>
<text transform="translate(578.65,412.05) rotate(-90)" style="font-size:17px;stroke-width:0.7" textLength="40.10" lengthAdjust="spacingAndGlyphs">L=2000</text>
<text x="164.50" y="506.9" class="tb" textLength="49.92" lengthAdjust="spacingAndGlyphs">PŘÍVOD</text>
<text x="225.74" y="506.9" class="tb" textLength="114.58" lengthAdjust="spacingAndGlyphs">TEPLÁ/STUDENÁ</text>
<text x="164.92" y="524.9" class="tb" textLength="37.58" lengthAdjust="spacingAndGlyphs">INLET</text>
<text x="212.68" y="524.9" class="tb" textLength="74.40" lengthAdjust="spacingAndGlyphs">HOT/COLD</text>
<text x="165.42" y="542.2" class="tb" textLength="37.82" lengthAdjust="spacingAndGlyphs">ВХОД</text>
<text x="213.50" y="542.2" class="tb" style="stroke-width:0.75" textLength="101.60" lengthAdjust="spacingAndGlyphs">ТЁПЛАЯ/ХОЛОДНАЯ</text>
<text x="165.16" y="560.6" class="tb" textLength="34.18" lengthAdjust="spacingAndGlyphs">3/8"</text>
<text x="231.50" y="560.6" class="tb" textLength="42.92" lengthAdjust="spacingAndGlyphs">xxx.0,</text>
<text x="283.32" y="560.6" class="tb" textLength="34.76" lengthAdjust="spacingAndGlyphs">1/2"</text>
<text x="349.32" y="560.6" class="tb" textLength="37.10" lengthAdjust="spacingAndGlyphs">xxx.5</text>
<path d="M211.1,555.7H219.9M328.4,555.7H337.9" stroke="#000" stroke-width="1.3"/>
</svg>
</body></html>
